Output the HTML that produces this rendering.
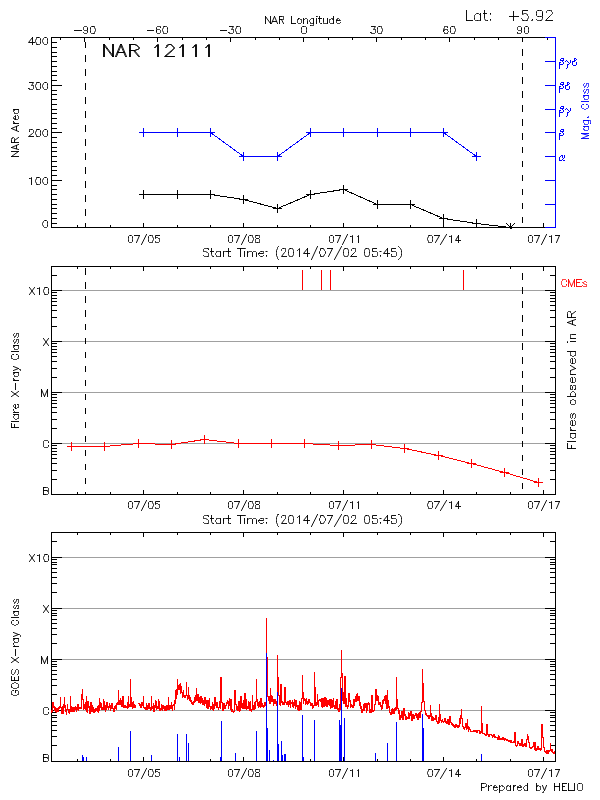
<!DOCTYPE html>
<html><head><meta charset="utf-8"><style>html,body{margin:0;padding:0;background:#fff;}svg{display:block;}text{shape-rendering:auto;}</style></head>
<body><svg width="600" height="800" viewBox="0 0 600 800" shape-rendering="crispEdges" font-family="Liberation Sans, sans-serif"><rect x="51" y="227" width="11" height="1" fill="#000"/><rect x="51" y="223" width="6" height="1" fill="#000"/><rect x="51" y="218" width="6" height="1" fill="#000"/><rect x="51" y="213" width="6" height="1" fill="#000"/><rect x="51" y="208" width="6" height="1" fill="#000"/><rect x="51" y="204" width="6" height="1" fill="#000"/><rect x="51" y="199" width="6" height="1" fill="#000"/><rect x="51" y="194" width="6" height="1" fill="#000"/><rect x="51" y="189" width="6" height="1" fill="#000"/><rect x="51" y="185" width="6" height="1" fill="#000"/><rect x="51" y="180" width="11" height="1" fill="#000"/><rect x="51" y="175" width="6" height="1" fill="#000"/><rect x="51" y="170" width="6" height="1" fill="#000"/><rect x="51" y="166" width="6" height="1" fill="#000"/><rect x="51" y="161" width="6" height="1" fill="#000"/><rect x="51" y="156" width="6" height="1" fill="#000"/><rect x="51" y="151" width="6" height="1" fill="#000"/><rect x="51" y="147" width="6" height="1" fill="#000"/><rect x="51" y="142" width="6" height="1" fill="#000"/><rect x="51" y="137" width="6" height="1" fill="#000"/><rect x="51" y="132" width="11" height="1" fill="#000"/><rect x="51" y="128" width="6" height="1" fill="#000"/><rect x="51" y="123" width="6" height="1" fill="#000"/><rect x="51" y="118" width="6" height="1" fill="#000"/><rect x="51" y="113" width="6" height="1" fill="#000"/><rect x="51" y="109" width="6" height="1" fill="#000"/><rect x="51" y="104" width="6" height="1" fill="#000"/><rect x="51" y="99" width="6" height="1" fill="#000"/><rect x="51" y="94" width="6" height="1" fill="#000"/><rect x="51" y="90" width="6" height="1" fill="#000"/><rect x="51" y="85" width="11" height="1" fill="#000"/><rect x="51" y="80" width="6" height="1" fill="#000"/><rect x="51" y="75" width="6" height="1" fill="#000"/><rect x="51" y="71" width="6" height="1" fill="#000"/><rect x="51" y="66" width="6" height="1" fill="#000"/><rect x="51" y="61" width="6" height="1" fill="#000"/><rect x="51" y="56" width="6" height="1" fill="#000"/><rect x="51" y="52" width="6" height="1" fill="#000"/><rect x="51" y="47" width="6" height="1" fill="#000"/><rect x="51" y="42" width="6" height="1" fill="#000"/><rect x="51" y="37" width="11" height="1" fill="#000"/><rect x="77" y="225" width="1" height="3" fill="#000"/><rect x="110" y="225" width="1" height="3" fill="#000"/><rect x="143" y="223" width="1" height="5" fill="#000"/><rect x="177" y="225" width="1" height="3" fill="#000"/><rect x="210" y="225" width="1" height="3" fill="#000"/><rect x="243" y="223" width="1" height="5" fill="#000"/><rect x="277" y="225" width="1" height="3" fill="#000"/><rect x="310" y="225" width="1" height="3" fill="#000"/><rect x="343" y="223" width="1" height="5" fill="#000"/><rect x="377" y="225" width="1" height="3" fill="#000"/><rect x="410" y="225" width="1" height="3" fill="#000"/><rect x="443" y="223" width="1" height="5" fill="#000"/><rect x="476" y="225" width="1" height="3" fill="#000"/><rect x="510" y="225" width="1" height="3" fill="#000"/><rect x="543" y="223" width="1" height="5" fill="#000"/><rect x="60" y="37" width="1" height="3" fill="#000"/><rect x="84" y="37" width="1" height="5" fill="#000"/><rect x="109" y="37" width="1" height="3" fill="#000"/><rect x="133" y="37" width="1" height="3" fill="#000"/><rect x="157" y="37" width="1" height="5" fill="#000"/><rect x="182" y="37" width="1" height="3" fill="#000"/><rect x="206" y="37" width="1" height="3" fill="#000"/><rect x="230" y="37" width="1" height="5" fill="#000"/><rect x="255" y="37" width="1" height="3" fill="#000"/><rect x="279" y="37" width="1" height="3" fill="#000"/><rect x="303" y="37" width="1" height="5" fill="#000"/><rect x="328" y="37" width="1" height="3" fill="#000"/><rect x="352" y="37" width="1" height="3" fill="#000"/><rect x="376" y="37" width="1" height="5" fill="#000"/><rect x="401" y="37" width="1" height="3" fill="#000"/><rect x="425" y="37" width="1" height="3" fill="#000"/><rect x="449" y="37" width="1" height="5" fill="#000"/><rect x="474" y="37" width="1" height="3" fill="#000"/><rect x="498" y="37" width="1" height="3" fill="#000"/><rect x="522" y="37" width="1" height="5" fill="#000"/><rect x="547" y="37" width="1" height="3" fill="#000"/><rect x="51" y="37" width="505" height="1" fill="#000"/><rect x="51" y="227" width="505" height="1" fill="#000"/><rect x="51" y="37" width="1" height="191" fill="#000"/><rect x="555" y="37" width="1" height="191" fill="#000"/><rect x="545" y="37" width="11" height="1" fill="#0000ff"/><rect x="555" y="37" width="1" height="191" fill="#0000ff"/><rect x="545" y="227" width="11" height="1" fill="#0000ff"/><rect x="545" y="204" width="11" height="1" fill="#0000ff"/><rect x="545" y="180" width="11" height="1" fill="#0000ff"/><rect x="545" y="156" width="11" height="1" fill="#0000ff"/><rect x="545" y="132" width="11" height="1" fill="#0000ff"/><rect x="545" y="109" width="11" height="1" fill="#0000ff"/><rect x="545" y="85" width="11" height="1" fill="#0000ff"/><rect x="545" y="61" width="11" height="1" fill="#0000ff"/><rect x="85" y="41.50" width="1" height="6.60" fill="#000"/><rect x="85" y="55.47" width="1" height="6.60" fill="#000"/><rect x="85" y="69.44" width="1" height="6.60" fill="#000"/><rect x="85" y="83.41" width="1" height="6.60" fill="#000"/><rect x="85" y="97.38" width="1" height="6.60" fill="#000"/><rect x="85" y="111.35" width="1" height="6.60" fill="#000"/><rect x="85" y="125.32" width="1" height="6.60" fill="#000"/><rect x="85" y="139.29" width="1" height="6.60" fill="#000"/><rect x="85" y="153.26" width="1" height="6.60" fill="#000"/><rect x="85" y="167.23" width="1" height="6.60" fill="#000"/><rect x="85" y="181.20" width="1" height="6.60" fill="#000"/><rect x="85" y="195.17" width="1" height="6.60" fill="#000"/><rect x="85" y="209.14" width="1" height="6.60" fill="#000"/><rect x="85" y="223.11" width="1" height="3.89" fill="#000"/><rect x="522" y="49.10" width="1" height="6.60" fill="#000"/><rect x="522" y="63.07" width="1" height="6.60" fill="#000"/><rect x="522" y="77.04" width="1" height="6.60" fill="#000"/><rect x="522" y="91.01" width="1" height="6.60" fill="#000"/><rect x="522" y="104.98" width="1" height="6.60" fill="#000"/><rect x="522" y="118.95" width="1" height="6.60" fill="#000"/><rect x="522" y="132.92" width="1" height="6.60" fill="#000"/><rect x="522" y="146.89" width="1" height="6.60" fill="#000"/><rect x="522" y="160.86" width="1" height="6.60" fill="#000"/><rect x="522" y="174.83" width="1" height="6.60" fill="#000"/><rect x="522" y="188.80" width="1" height="6.60" fill="#000"/><rect x="522" y="202.77" width="1" height="6.60" fill="#000"/><rect x="522" y="216.74" width="1" height="6.60" fill="#000"/><polyline fill="none" stroke="#000" stroke-width="1" points="143.5,194.5 177.5,194.5 210.5,194.5 243.5,199.5 277.5,208.5 310.5,194.5 343.5,189.5 377.5,204.5 410.5,204.5 443.5,218.5 476.5,223.5 510.5,227.5"/><rect x="139" y="194" width="9" height="1" fill="#000"/><rect x="143" y="190" width="1" height="9" fill="#000"/><rect x="173" y="194" width="9" height="1" fill="#000"/><rect x="177" y="190" width="1" height="9" fill="#000"/><rect x="206" y="194" width="9" height="1" fill="#000"/><rect x="210" y="190" width="1" height="9" fill="#000"/><rect x="239" y="199" width="9" height="1" fill="#000"/><rect x="243" y="195" width="1" height="9" fill="#000"/><rect x="273" y="208" width="9" height="1" fill="#000"/><rect x="277" y="204" width="1" height="9" fill="#000"/><rect x="306" y="194" width="9" height="1" fill="#000"/><rect x="310" y="190" width="1" height="9" fill="#000"/><rect x="339" y="189" width="9" height="1" fill="#000"/><rect x="343" y="185" width="1" height="9" fill="#000"/><rect x="373" y="204" width="9" height="1" fill="#000"/><rect x="377" y="200" width="1" height="9" fill="#000"/><rect x="406" y="204" width="9" height="1" fill="#000"/><rect x="410" y="200" width="1" height="9" fill="#000"/><rect x="439" y="218" width="9" height="1" fill="#000"/><rect x="443" y="214" width="1" height="9" fill="#000"/><rect x="472" y="223" width="9" height="1" fill="#000"/><rect x="476" y="219" width="1" height="9" fill="#000"/><rect x="510" y="223" width="1" height="5" fill="#000"/><rect x="510" y="227" width="2" height="2" fill="#000"/><path d="M506.5 223.5L510.5 227.5L514.5 223.5" stroke="#000" fill="none"/><polyline fill="none" stroke="#0000ff" stroke-width="1" points="143.5,132.5 177.5,132.5 210.5,132.5 243.5,156.5 277.5,156.5 310.5,132.5 343.5,132.5 377.5,132.5 410.5,132.5 443.5,132.5 476.5,156.5"/><rect x="139" y="132" width="9" height="1" fill="#0000ff"/><rect x="143" y="128" width="1" height="9" fill="#0000ff"/><rect x="173" y="132" width="9" height="1" fill="#0000ff"/><rect x="177" y="128" width="1" height="9" fill="#0000ff"/><rect x="206" y="132" width="9" height="1" fill="#0000ff"/><rect x="210" y="128" width="1" height="9" fill="#0000ff"/><rect x="239" y="156" width="9" height="1" fill="#0000ff"/><rect x="243" y="152" width="1" height="9" fill="#0000ff"/><rect x="273" y="156" width="9" height="1" fill="#0000ff"/><rect x="277" y="152" width="1" height="9" fill="#0000ff"/><rect x="306" y="132" width="9" height="1" fill="#0000ff"/><rect x="310" y="128" width="1" height="9" fill="#0000ff"/><rect x="339" y="132" width="9" height="1" fill="#0000ff"/><rect x="343" y="128" width="1" height="9" fill="#0000ff"/><rect x="373" y="132" width="9" height="1" fill="#0000ff"/><rect x="377" y="128" width="1" height="9" fill="#0000ff"/><rect x="406" y="132" width="9" height="1" fill="#0000ff"/><rect x="410" y="128" width="1" height="9" fill="#0000ff"/><rect x="439" y="132" width="9" height="1" fill="#0000ff"/><rect x="443" y="128" width="1" height="9" fill="#0000ff"/><rect x="472" y="156" width="9" height="1" fill="#0000ff"/><rect x="476" y="152" width="1" height="9" fill="#0000ff"/><rect x="51" y="443" width="505" height="1" fill="#a0a0a0"/><rect x="51" y="392" width="505" height="1" fill="#a0a0a0"/><rect x="51" y="341" width="505" height="1" fill="#a0a0a0"/><rect x="51" y="290" width="505" height="1" fill="#a0a0a0"/><rect x="51" y="494" width="11" height="1" fill="#000"/><rect x="545" y="494" width="11" height="1" fill="#000"/><rect x="51" y="479" width="6" height="1" fill="#000"/><rect x="550" y="479" width="6" height="1" fill="#000"/><rect x="51" y="470" width="6" height="1" fill="#000"/><rect x="550" y="470" width="6" height="1" fill="#000"/><rect x="51" y="463" width="6" height="1" fill="#000"/><rect x="550" y="463" width="6" height="1" fill="#000"/><rect x="51" y="458" width="6" height="1" fill="#000"/><rect x="550" y="458" width="6" height="1" fill="#000"/><rect x="51" y="454" width="6" height="1" fill="#000"/><rect x="550" y="454" width="6" height="1" fill="#000"/><rect x="51" y="451" width="6" height="1" fill="#000"/><rect x="550" y="451" width="6" height="1" fill="#000"/><rect x="51" y="448" width="6" height="1" fill="#000"/><rect x="550" y="448" width="6" height="1" fill="#000"/><rect x="51" y="445" width="6" height="1" fill="#000"/><rect x="550" y="445" width="6" height="1" fill="#000"/><rect x="51" y="443" width="11" height="1" fill="#000"/><rect x="545" y="443" width="11" height="1" fill="#000"/><rect x="51" y="428" width="6" height="1" fill="#000"/><rect x="550" y="428" width="6" height="1" fill="#000"/><rect x="51" y="419" width="6" height="1" fill="#000"/><rect x="550" y="419" width="6" height="1" fill="#000"/><rect x="51" y="412" width="6" height="1" fill="#000"/><rect x="550" y="412" width="6" height="1" fill="#000"/><rect x="51" y="407" width="6" height="1" fill="#000"/><rect x="550" y="407" width="6" height="1" fill="#000"/><rect x="51" y="403" width="6" height="1" fill="#000"/><rect x="550" y="403" width="6" height="1" fill="#000"/><rect x="51" y="400" width="6" height="1" fill="#000"/><rect x="550" y="400" width="6" height="1" fill="#000"/><rect x="51" y="397" width="6" height="1" fill="#000"/><rect x="550" y="397" width="6" height="1" fill="#000"/><rect x="51" y="394" width="6" height="1" fill="#000"/><rect x="550" y="394" width="6" height="1" fill="#000"/><rect x="51" y="392" width="11" height="1" fill="#000"/><rect x="545" y="392" width="11" height="1" fill="#000"/><rect x="51" y="377" width="6" height="1" fill="#000"/><rect x="550" y="377" width="6" height="1" fill="#000"/><rect x="51" y="368" width="6" height="1" fill="#000"/><rect x="550" y="368" width="6" height="1" fill="#000"/><rect x="51" y="361" width="6" height="1" fill="#000"/><rect x="550" y="361" width="6" height="1" fill="#000"/><rect x="51" y="356" width="6" height="1" fill="#000"/><rect x="550" y="356" width="6" height="1" fill="#000"/><rect x="51" y="352" width="6" height="1" fill="#000"/><rect x="550" y="352" width="6" height="1" fill="#000"/><rect x="51" y="349" width="6" height="1" fill="#000"/><rect x="550" y="349" width="6" height="1" fill="#000"/><rect x="51" y="346" width="6" height="1" fill="#000"/><rect x="550" y="346" width="6" height="1" fill="#000"/><rect x="51" y="343" width="6" height="1" fill="#000"/><rect x="550" y="343" width="6" height="1" fill="#000"/><rect x="51" y="341" width="11" height="1" fill="#000"/><rect x="545" y="341" width="11" height="1" fill="#000"/><rect x="51" y="326" width="6" height="1" fill="#000"/><rect x="550" y="326" width="6" height="1" fill="#000"/><rect x="51" y="317" width="6" height="1" fill="#000"/><rect x="550" y="317" width="6" height="1" fill="#000"/><rect x="51" y="310" width="6" height="1" fill="#000"/><rect x="550" y="310" width="6" height="1" fill="#000"/><rect x="51" y="305" width="6" height="1" fill="#000"/><rect x="550" y="305" width="6" height="1" fill="#000"/><rect x="51" y="301" width="6" height="1" fill="#000"/><rect x="550" y="301" width="6" height="1" fill="#000"/><rect x="51" y="298" width="6" height="1" fill="#000"/><rect x="550" y="298" width="6" height="1" fill="#000"/><rect x="51" y="295" width="6" height="1" fill="#000"/><rect x="550" y="295" width="6" height="1" fill="#000"/><rect x="51" y="292" width="6" height="1" fill="#000"/><rect x="550" y="292" width="6" height="1" fill="#000"/><rect x="51" y="290" width="11" height="1" fill="#000"/><rect x="545" y="290" width="11" height="1" fill="#000"/><rect x="51" y="275" width="6" height="1" fill="#000"/><rect x="550" y="275" width="6" height="1" fill="#000"/><rect x="51" y="266" width="6" height="1" fill="#000"/><rect x="550" y="266" width="6" height="1" fill="#000"/><rect x="77" y="492" width="1" height="3" fill="#000"/><rect x="77" y="266" width="1" height="3" fill="#000"/><rect x="110" y="492" width="1" height="3" fill="#000"/><rect x="110" y="266" width="1" height="3" fill="#000"/><rect x="143" y="490" width="1" height="5" fill="#000"/><rect x="143" y="266" width="1" height="5" fill="#000"/><rect x="177" y="492" width="1" height="3" fill="#000"/><rect x="177" y="266" width="1" height="3" fill="#000"/><rect x="210" y="492" width="1" height="3" fill="#000"/><rect x="210" y="266" width="1" height="3" fill="#000"/><rect x="243" y="490" width="1" height="5" fill="#000"/><rect x="243" y="266" width="1" height="5" fill="#000"/><rect x="277" y="492" width="1" height="3" fill="#000"/><rect x="277" y="266" width="1" height="3" fill="#000"/><rect x="310" y="492" width="1" height="3" fill="#000"/><rect x="310" y="266" width="1" height="3" fill="#000"/><rect x="343" y="490" width="1" height="5" fill="#000"/><rect x="343" y="266" width="1" height="5" fill="#000"/><rect x="377" y="492" width="1" height="3" fill="#000"/><rect x="377" y="266" width="1" height="3" fill="#000"/><rect x="410" y="492" width="1" height="3" fill="#000"/><rect x="410" y="266" width="1" height="3" fill="#000"/><rect x="443" y="490" width="1" height="5" fill="#000"/><rect x="443" y="266" width="1" height="5" fill="#000"/><rect x="476" y="492" width="1" height="3" fill="#000"/><rect x="476" y="266" width="1" height="3" fill="#000"/><rect x="510" y="492" width="1" height="3" fill="#000"/><rect x="510" y="266" width="1" height="3" fill="#000"/><rect x="543" y="490" width="1" height="5" fill="#000"/><rect x="543" y="266" width="1" height="5" fill="#000"/><rect x="51" y="266" width="505" height="1" fill="#000"/><rect x="51" y="494" width="505" height="1" fill="#000"/><rect x="51" y="266" width="1" height="229" fill="#000"/><rect x="555" y="266" width="1" height="229" fill="#000"/><rect x="85" y="268.00" width="1" height="6.60" fill="#000"/><rect x="85" y="281.97" width="1" height="6.60" fill="#000"/><rect x="85" y="295.94" width="1" height="6.60" fill="#000"/><rect x="85" y="309.91" width="1" height="6.60" fill="#000"/><rect x="85" y="323.88" width="1" height="6.60" fill="#000"/><rect x="85" y="337.85" width="1" height="6.60" fill="#000"/><rect x="85" y="351.82" width="1" height="6.60" fill="#000"/><rect x="85" y="365.79" width="1" height="6.60" fill="#000"/><rect x="85" y="379.76" width="1" height="6.60" fill="#000"/><rect x="85" y="393.73" width="1" height="6.60" fill="#000"/><rect x="85" y="407.70" width="1" height="6.60" fill="#000"/><rect x="85" y="421.67" width="1" height="6.60" fill="#000"/><rect x="85" y="435.64" width="1" height="6.60" fill="#000"/><rect x="85" y="449.61" width="1" height="6.60" fill="#000"/><rect x="85" y="463.58" width="1" height="6.60" fill="#000"/><rect x="85" y="477.55" width="1" height="6.60" fill="#000"/><rect x="85" y="491.52" width="1" height="2.48" fill="#000"/><rect x="522" y="273.25" width="1" height="6.60" fill="#000"/><rect x="522" y="287.22" width="1" height="6.60" fill="#000"/><rect x="522" y="301.19" width="1" height="6.60" fill="#000"/><rect x="522" y="315.16" width="1" height="6.60" fill="#000"/><rect x="522" y="329.13" width="1" height="6.60" fill="#000"/><rect x="522" y="343.10" width="1" height="6.60" fill="#000"/><rect x="522" y="357.07" width="1" height="6.60" fill="#000"/><rect x="522" y="371.04" width="1" height="6.60" fill="#000"/><rect x="522" y="385.01" width="1" height="6.60" fill="#000"/><rect x="522" y="398.98" width="1" height="6.60" fill="#000"/><rect x="522" y="412.95" width="1" height="6.60" fill="#000"/><rect x="522" y="426.92" width="1" height="6.60" fill="#000"/><rect x="522" y="440.89" width="1" height="6.60" fill="#000"/><rect x="522" y="454.86" width="1" height="6.60" fill="#000"/><rect x="522" y="468.83" width="1" height="6.60" fill="#000"/><rect x="522" y="482.80" width="1" height="6.60" fill="#000"/><rect x="302" y="270" width="1" height="20" fill="#ff0000"/><rect x="321" y="270" width="1" height="20" fill="#ff0000"/><rect x="330" y="270" width="1" height="20" fill="#ff0000"/><rect x="463" y="270" width="1" height="20" fill="#ff0000"/><polyline fill="none" stroke="#ff0000" stroke-width="1" points="71.5,446.5 104.5,446.5 138.5,443.5 171.5,444.5 204.5,439.5 238.5,443.5 271.5,443.5 304.5,443.5 338.5,445.5 371.5,444.5 404.5,448.5 438.5,455.5 471.5,463.5 504.5,472.5 538.5,482.5"/><rect x="67" y="446" width="9" height="1" fill="#ff0000"/><rect x="71" y="442" width="1" height="9" fill="#ff0000"/><rect x="100" y="446" width="9" height="1" fill="#ff0000"/><rect x="104" y="442" width="1" height="9" fill="#ff0000"/><rect x="134" y="443" width="9" height="1" fill="#ff0000"/><rect x="138" y="439" width="1" height="9" fill="#ff0000"/><rect x="167" y="444" width="9" height="1" fill="#ff0000"/><rect x="171" y="440" width="1" height="9" fill="#ff0000"/><rect x="200" y="439" width="9" height="1" fill="#ff0000"/><rect x="204" y="435" width="1" height="9" fill="#ff0000"/><rect x="234" y="443" width="9" height="1" fill="#ff0000"/><rect x="238" y="439" width="1" height="9" fill="#ff0000"/><rect x="267" y="443" width="9" height="1" fill="#ff0000"/><rect x="271" y="439" width="1" height="9" fill="#ff0000"/><rect x="300" y="443" width="9" height="1" fill="#ff0000"/><rect x="304" y="439" width="1" height="9" fill="#ff0000"/><rect x="334" y="445" width="9" height="1" fill="#ff0000"/><rect x="338" y="441" width="1" height="9" fill="#ff0000"/><rect x="367" y="444" width="9" height="1" fill="#ff0000"/><rect x="371" y="440" width="1" height="9" fill="#ff0000"/><rect x="400" y="448" width="9" height="1" fill="#ff0000"/><rect x="404" y="444" width="1" height="9" fill="#ff0000"/><rect x="434" y="455" width="9" height="1" fill="#ff0000"/><rect x="438" y="451" width="1" height="9" fill="#ff0000"/><rect x="467" y="463" width="9" height="1" fill="#ff0000"/><rect x="471" y="459" width="1" height="9" fill="#ff0000"/><rect x="500" y="472" width="9" height="1" fill="#ff0000"/><rect x="504" y="468" width="1" height="9" fill="#ff0000"/><rect x="534" y="482" width="9" height="1" fill="#ff0000"/><rect x="538" y="478" width="1" height="9" fill="#ff0000"/><rect x="51" y="710" width="505" height="1" fill="#a0a0a0"/><rect x="51" y="659" width="505" height="1" fill="#a0a0a0"/><rect x="51" y="608" width="505" height="1" fill="#a0a0a0"/><rect x="51" y="557" width="505" height="1" fill="#a0a0a0"/><rect x="51" y="761" width="11" height="1" fill="#000"/><rect x="545" y="761" width="11" height="1" fill="#000"/><rect x="51" y="745" width="6" height="1" fill="#000"/><rect x="550" y="745" width="6" height="1" fill="#000"/><rect x="51" y="736" width="6" height="1" fill="#000"/><rect x="550" y="736" width="6" height="1" fill="#000"/><rect x="51" y="730" width="6" height="1" fill="#000"/><rect x="550" y="730" width="6" height="1" fill="#000"/><rect x="51" y="725" width="6" height="1" fill="#000"/><rect x="550" y="725" width="6" height="1" fill="#000"/><rect x="51" y="721" width="6" height="1" fill="#000"/><rect x="550" y="721" width="6" height="1" fill="#000"/><rect x="51" y="717" width="6" height="1" fill="#000"/><rect x="550" y="717" width="6" height="1" fill="#000"/><rect x="51" y="715" width="6" height="1" fill="#000"/><rect x="550" y="715" width="6" height="1" fill="#000"/><rect x="51" y="712" width="6" height="1" fill="#000"/><rect x="550" y="712" width="6" height="1" fill="#000"/><rect x="51" y="710" width="11" height="1" fill="#000"/><rect x="545" y="710" width="11" height="1" fill="#000"/><rect x="51" y="694" width="6" height="1" fill="#000"/><rect x="550" y="694" width="6" height="1" fill="#000"/><rect x="51" y="685" width="6" height="1" fill="#000"/><rect x="550" y="685" width="6" height="1" fill="#000"/><rect x="51" y="679" width="6" height="1" fill="#000"/><rect x="550" y="679" width="6" height="1" fill="#000"/><rect x="51" y="674" width="6" height="1" fill="#000"/><rect x="550" y="674" width="6" height="1" fill="#000"/><rect x="51" y="670" width="6" height="1" fill="#000"/><rect x="550" y="670" width="6" height="1" fill="#000"/><rect x="51" y="666" width="6" height="1" fill="#000"/><rect x="550" y="666" width="6" height="1" fill="#000"/><rect x="51" y="664" width="6" height="1" fill="#000"/><rect x="550" y="664" width="6" height="1" fill="#000"/><rect x="51" y="661" width="6" height="1" fill="#000"/><rect x="550" y="661" width="6" height="1" fill="#000"/><rect x="51" y="659" width="11" height="1" fill="#000"/><rect x="545" y="659" width="11" height="1" fill="#000"/><rect x="51" y="643" width="6" height="1" fill="#000"/><rect x="550" y="643" width="6" height="1" fill="#000"/><rect x="51" y="634" width="6" height="1" fill="#000"/><rect x="550" y="634" width="6" height="1" fill="#000"/><rect x="51" y="628" width="6" height="1" fill="#000"/><rect x="550" y="628" width="6" height="1" fill="#000"/><rect x="51" y="623" width="6" height="1" fill="#000"/><rect x="550" y="623" width="6" height="1" fill="#000"/><rect x="51" y="619" width="6" height="1" fill="#000"/><rect x="550" y="619" width="6" height="1" fill="#000"/><rect x="51" y="615" width="6" height="1" fill="#000"/><rect x="550" y="615" width="6" height="1" fill="#000"/><rect x="51" y="613" width="6" height="1" fill="#000"/><rect x="550" y="613" width="6" height="1" fill="#000"/><rect x="51" y="610" width="6" height="1" fill="#000"/><rect x="550" y="610" width="6" height="1" fill="#000"/><rect x="51" y="608" width="11" height="1" fill="#000"/><rect x="545" y="608" width="11" height="1" fill="#000"/><rect x="51" y="592" width="6" height="1" fill="#000"/><rect x="550" y="592" width="6" height="1" fill="#000"/><rect x="51" y="583" width="6" height="1" fill="#000"/><rect x="550" y="583" width="6" height="1" fill="#000"/><rect x="51" y="577" width="6" height="1" fill="#000"/><rect x="550" y="577" width="6" height="1" fill="#000"/><rect x="51" y="572" width="6" height="1" fill="#000"/><rect x="550" y="572" width="6" height="1" fill="#000"/><rect x="51" y="568" width="6" height="1" fill="#000"/><rect x="550" y="568" width="6" height="1" fill="#000"/><rect x="51" y="564" width="6" height="1" fill="#000"/><rect x="550" y="564" width="6" height="1" fill="#000"/><rect x="51" y="562" width="6" height="1" fill="#000"/><rect x="550" y="562" width="6" height="1" fill="#000"/><rect x="51" y="559" width="6" height="1" fill="#000"/><rect x="550" y="559" width="6" height="1" fill="#000"/><rect x="51" y="557" width="11" height="1" fill="#000"/><rect x="545" y="557" width="11" height="1" fill="#000"/><rect x="51" y="541" width="6" height="1" fill="#000"/><rect x="550" y="541" width="6" height="1" fill="#000"/><rect x="51" y="532" width="6" height="1" fill="#000"/><rect x="550" y="532" width="6" height="1" fill="#000"/><rect x="77" y="759" width="1" height="3" fill="#000"/><rect x="77" y="532" width="1" height="3" fill="#000"/><rect x="110" y="759" width="1" height="3" fill="#000"/><rect x="110" y="532" width="1" height="3" fill="#000"/><rect x="143" y="757" width="1" height="5" fill="#000"/><rect x="143" y="532" width="1" height="5" fill="#000"/><rect x="177" y="759" width="1" height="3" fill="#000"/><rect x="177" y="532" width="1" height="3" fill="#000"/><rect x="210" y="759" width="1" height="3" fill="#000"/><rect x="210" y="532" width="1" height="3" fill="#000"/><rect x="243" y="757" width="1" height="5" fill="#000"/><rect x="243" y="532" width="1" height="5" fill="#000"/><rect x="277" y="759" width="1" height="3" fill="#000"/><rect x="277" y="532" width="1" height="3" fill="#000"/><rect x="310" y="759" width="1" height="3" fill="#000"/><rect x="310" y="532" width="1" height="3" fill="#000"/><rect x="343" y="757" width="1" height="5" fill="#000"/><rect x="343" y="532" width="1" height="5" fill="#000"/><rect x="377" y="759" width="1" height="3" fill="#000"/><rect x="377" y="532" width="1" height="3" fill="#000"/><rect x="410" y="759" width="1" height="3" fill="#000"/><rect x="410" y="532" width="1" height="3" fill="#000"/><rect x="443" y="757" width="1" height="5" fill="#000"/><rect x="443" y="532" width="1" height="5" fill="#000"/><rect x="476" y="759" width="1" height="3" fill="#000"/><rect x="476" y="532" width="1" height="3" fill="#000"/><rect x="510" y="759" width="1" height="3" fill="#000"/><rect x="510" y="532" width="1" height="3" fill="#000"/><rect x="543" y="757" width="1" height="5" fill="#000"/><rect x="543" y="532" width="1" height="5" fill="#000"/><rect x="51" y="532" width="505" height="1" fill="#000"/><rect x="51" y="761" width="505" height="1" fill="#000"/><rect x="51" y="532" width="1" height="230" fill="#000"/><rect x="555" y="532" width="1" height="230" fill="#000"/><polyline fill="none" stroke="#ff0000" stroke-width="1" points="51.5,712.5 51.5,711.5 51.5,709.5 51.5,711.5 52.5,711.5 52.5,711.5 52.5,703.5 52.5,702.5 53.5,702.5 53.5,704.5 53.5,705.5 53.5,707.5 53.5,706.5 54.5,706.5 54.5,706.5 54.5,710.5 54.5,707.5 55.5,707.5 55.5,708.5 55.5,709.5 55.5,711.5 56.5,711.5 56.5,711.5 56.5,709.5 56.5,712.5 56.5,708.5 57.5,708.5 57.5,709.5 57.5,710.5 57.5,711.5 58.5,711.5 58.5,710.5 58.5,709.5 58.5,707.5 59.5,707.5 59.5,708.5 59.5,706.5 59.5,705.5 59.5,707.5 60.5,707.5 60.5,696.5 60.5,696.5 60.5,707.5 61.5,707.5 61.5,706.5 61.5,711.5 61.5,713.5 62.5,713.5 62.5,709.5 62.5,705.5 62.5,710.5 62.5,713.5 63.5,713.5 63.5,710.5 63.5,706.5 63.5,704.5 64.5,704.5 64.5,696.5 64.5,696.5 64.5,707.5 65.5,707.5 65.5,705.5 65.5,707.5 65.5,704.5 65.5,711.5 66.5,711.5 66.5,713.5 66.5,714.5 66.5,709.5 67.5,709.5 67.5,703.5 67.5,703.5 67.5,709.5 68.5,709.5 68.5,711.5 68.5,712.5 68.5,709.5 68.5,711.5 69.5,711.5 69.5,713.5 69.5,708.5 69.5,711.5 70.5,711.5 70.5,695.5 70.5,695.5 70.5,706.5 71.5,706.5 71.5,707.5 71.5,711.5 71.5,706.5 71.5,711.5 72.5,711.5 72.5,707.5 72.5,710.5 72.5,707.5 73.5,707.5 73.5,710.5 73.5,711.5 73.5,710.5 74.5,710.5 74.5,706.5 74.5,711.5 74.5,706.5 74.5,709.5 75.5,709.5 75.5,705.5 75.5,706.5 75.5,707.5 76.5,707.5 76.5,710.5 76.5,711.5 76.5,709.5 77.5,709.5 77.5,706.5 77.5,705.5 77.5,704.5 77.5,704.5 78.5,704.5 78.5,709.5 78.5,710.5 78.5,707.5 79.5,707.5 79.5,708.5 79.5,706.5 79.5,708.5 80.5,708.5 80.5,707.5 80.5,708.5 80.5,706.5 80.5,708.5 81.5,708.5 81.5,702.5 81.5,693.5 81.5,698.5 82.5,698.5 82.5,688.5 82.5,688.5 82.5,699.5 83.5,699.5 83.5,704.5 83.5,709.5 83.5,709.5 83.5,708.5 84.5,708.5 84.5,705.5 84.5,708.5 84.5,704.5 85.5,704.5 85.5,709.5 85.5,704.5 85.5,702.5 86.5,702.5 86.5,695.5 86.5,695.5 86.5,706.5 86.5,711.5 87.5,711.5 87.5,712.5 87.5,704.5 87.5,701.5 88.5,701.5 88.5,707.5 88.5,706.5 88.5,706.5 89.5,706.5 89.5,711.5 89.5,712.5 89.5,713.5 89.5,713.5 90.5,713.5 90.5,702.5 90.5,702.5 90.5,702.5 91.5,702.5 91.5,703.5 91.5,711.5 91.5,707.5 92.5,707.5 92.5,704.5 92.5,707.5 92.5,711.5 92.5,707.5 93.5,707.5 93.5,710.5 93.5,712.5 93.5,711.5 94.5,711.5 94.5,712.5 94.5,708.5 94.5,709.5 95.5,709.5 95.5,708.5 95.5,711.5 95.5,707.5 95.5,708.5 96.5,708.5 96.5,707.5 96.5,710.5 96.5,708.5 97.5,708.5 97.5,711.5 97.5,705.5 97.5,706.5 98.5,706.5 98.5,704.5 98.5,709.5 98.5,712.5 98.5,710.5 99.5,710.5 99.5,697.5 99.5,697.5 99.5,702.5 100.5,702.5 100.5,707.5 100.5,707.5 100.5,704.5 101.5,704.5 101.5,702.5 101.5,708.5 101.5,703.5 101.5,709.5 102.5,709.5 102.5,706.5 102.5,709.5 102.5,709.5 103.5,709.5 103.5,698.5 103.5,698.5 103.5,708.5 104.5,708.5 104.5,700.5 104.5,705.5 104.5,702.5 104.5,709.5 105.5,709.5 105.5,711.5 105.5,711.5 105.5,705.5 106.5,705.5 106.5,705.5 106.5,709.5 106.5,702.5 107.5,702.5 107.5,706.5 107.5,707.5 107.5,705.5 107.5,706.5 108.5,706.5 108.5,705.5 108.5,709.5 108.5,706.5 109.5,706.5 109.5,702.5 109.5,707.5 109.5,706.5 110.5,706.5 110.5,705.5 110.5,708.5 110.5,710.5 110.5,705.5 111.5,705.5 111.5,704.5 111.5,708.5 111.5,703.5 112.5,703.5 112.5,706.5 112.5,704.5 112.5,708.5 113.5,708.5 113.5,707.5 113.5,708.5 113.5,710.5 113.5,711.5 114.5,711.5 114.5,705.5 114.5,709.5 114.5,708.5 115.5,708.5 115.5,704.5 115.5,705.5 115.5,707.5 116.5,707.5 116.5,707.5 116.5,709.5 116.5,704.5 116.5,703.5 117.5,703.5 117.5,701.5 117.5,704.5 117.5,704.5 118.5,704.5 118.5,689.5 118.5,689.5 118.5,700.5 119.5,700.5 119.5,701.5 119.5,703.5 119.5,704.5 119.5,702.5 120.5,702.5 120.5,697.5 120.5,699.5 120.5,704.5 121.5,704.5 121.5,704.5 121.5,699.5 121.5,706.5 122.5,706.5 122.5,704.5 122.5,701.5 122.5,705.5 122.5,696.5 123.5,696.5 123.5,696.5 123.5,704.5 123.5,707.5 124.5,707.5 124.5,705.5 124.5,705.5 124.5,705.5 125.5,705.5 125.5,707.5 125.5,706.5 125.5,704.5 125.5,706.5 126.5,706.5 126.5,705.5 126.5,707.5 126.5,706.5 127.5,706.5 127.5,708.5 127.5,708.5 127.5,702.5 128.5,702.5 128.5,704.5 128.5,707.5 128.5,695.5 128.5,704.5 129.5,704.5 129.5,704.5 129.5,703.5 129.5,706.5 130.5,706.5 130.5,678.5 130.5,678.5 130.5,697.5 131.5,697.5 131.5,703.5 131.5,705.5 131.5,699.5 131.5,706.5 132.5,706.5 132.5,708.5 132.5,701.5 132.5,704.5 133.5,704.5 133.5,700.5 133.5,703.5 133.5,707.5 134.5,707.5 134.5,703.5 134.5,705.5 134.5,704.5 134.5,707.5 135.5,707.5 135.5,704.5"/><polyline fill="none" stroke="#ff0000" stroke-width="1" points="138.5,702.5 138.5,703.5 139.5,703.5 139.5,704.5 139.5,703.5 139.5,705.5 140.5,705.5 140.5,703.5 140.5,704.5 140.5,706.5 140.5,707.5 141.5,707.5 141.5,703.5 141.5,706.5 141.5,702.5 142.5,702.5 142.5,701.5 142.5,705.5 142.5,703.5 143.5,703.5 143.5,706.5 143.5,695.5 143.5,695.5 143.5,707.5 144.5,707.5 144.5,708.5 144.5,706.5 144.5,708.5 145.5,708.5 145.5,707.5 145.5,706.5 145.5,709.5 146.5,709.5 146.5,704.5 146.5,702.5 146.5,708.5 147.5,708.5 147.5,709.5 147.5,707.5 147.5,704.5 147.5,708.5 148.5,708.5 148.5,708.5 148.5,704.5 148.5,703.5 149.5,703.5 149.5,706.5 149.5,705.5 149.5,708.5 150.5,708.5 150.5,710.5 150.5,706.5 150.5,706.5 150.5,709.5 151.5,709.5 151.5,695.5 151.5,695.5 151.5,706.5 152.5,706.5 152.5,706.5 152.5,706.5 152.5,708.5 153.5,708.5 153.5,702.5 153.5,707.5 153.5,709.5 153.5,711.5 154.5,711.5 154.5,707.5 154.5,704.5 154.5,707.5 155.5,707.5 155.5,699.5 155.5,699.5 155.5,704.5 156.5,704.5 156.5,709.5 156.5,700.5 156.5,706.5 156.5,706.5 157.5,706.5 157.5,707.5 157.5,706.5 157.5,708.5 158.5,708.5 158.5,698.5 158.5,698.5 158.5,707.5 159.5,707.5 159.5,707.5 159.5,700.5 159.5,708.5 159.5,710.5 160.5,710.5 160.5,709.5 160.5,708.5 160.5,708.5 161.5,708.5 161.5,703.5 161.5,709.5 161.5,705.5 162.5,705.5 162.5,704.5 162.5,708.5 162.5,710.5 162.5,705.5 163.5,705.5 163.5,708.5 163.5,705.5 163.5,707.5 164.5,707.5 164.5,708.5 164.5,710.5 164.5,706.5 165.5,706.5 165.5,709.5 165.5,709.5 165.5,709.5 165.5,710.5 166.5,710.5 166.5,709.5 166.5,706.5 166.5,705.5 167.5,705.5 167.5,709.5 167.5,708.5 167.5,709.5 168.5,709.5 168.5,696.5 168.5,696.5 168.5,705.5 168.5,706.5 169.5,706.5 169.5,709.5 169.5,709.5 169.5,705.5 170.5,705.5 170.5,708.5 170.5,704.5 170.5,708.5 171.5,708.5 171.5,706.5 171.5,701.5 171.5,702.5 171.5,707.5 172.5,707.5 172.5,709.5 172.5,710.5 172.5,705.5 173.5,705.5 173.5,704.5 173.5,703.5 173.5,705.5 174.5,705.5 174.5,709.5 174.5,707.5 174.5,699.5 174.5,703.5 175.5,703.5 175.5,698.5 175.5,701.5 175.5,690.5 176.5,690.5 176.5,696.5 176.5,698.5 176.5,689.5 177.5,689.5 177.5,694.5 177.5,678.5 177.5,678.5 177.5,685.5 178.5,685.5 178.5,684.5 178.5,686.5 178.5,689.5 179.5,689.5 179.5,687.5 179.5,685.5 179.5,684.5 180.5,684.5 180.5,693.5 180.5,686.5 180.5,682.5 180.5,686.5 181.5,686.5 181.5,689.5 181.5,689.5 181.5,692.5 182.5,692.5 182.5,697.5 182.5,696.5 182.5,696.5 183.5,696.5 183.5,696.5 183.5,689.5 183.5,689.5 183.5,695.5 184.5,695.5 184.5,697.5 184.5,695.5 184.5,696.5 185.5,696.5 185.5,697.5 185.5,696.5 185.5,695.5 186.5,695.5 186.5,681.5 186.5,681.5 186.5,691.5 186.5,695.5 187.5,695.5 187.5,697.5 187.5,699.5 187.5,698.5 188.5,698.5 188.5,686.5 188.5,686.5 188.5,695.5 189.5,695.5 189.5,698.5 189.5,700.5 189.5,699.5 189.5,698.5 190.5,698.5 190.5,696.5 190.5,701.5 190.5,701.5 191.5,701.5 191.5,703.5 191.5,699.5 191.5,703.5 192.5,703.5 192.5,704.5 192.5,703.5 192.5,703.5 192.5,702.5 193.5,702.5 193.5,704.5 193.5,701.5 193.5,701.5 194.5,701.5 194.5,696.5 194.5,702.5 194.5,701.5 195.5,701.5 195.5,695.5 195.5,699.5 195.5,694.5 195.5,699.5 196.5,699.5 196.5,687.5 196.5,696.5 196.5,700.5 197.5,700.5 197.5,699.5 197.5,698.5 197.5,694.5 198.5,694.5 198.5,698.5 198.5,700.5 198.5,702.5 198.5,697.5 199.5,697.5 199.5,697.5 199.5,696.5 199.5,702.5 200.5,702.5 200.5,703.5 200.5,698.5 200.5,696.5 201.5,696.5 201.5,702.5 201.5,702.5 201.5,698.5 201.5,698.5 202.5,698.5 202.5,700.5 202.5,704.5 202.5,704.5 203.5,704.5 203.5,701.5 203.5,699.5 203.5,700.5 204.5,700.5 204.5,705.5 204.5,703.5 204.5,697.5 204.5,697.5 205.5,697.5 205.5,703.5 205.5,703.5 205.5,700.5 206.5,700.5 206.5,700.5 206.5,707.5 206.5,700.5 207.5,700.5 207.5,703.5 207.5,705.5 207.5,704.5 207.5,708.5 208.5,708.5 208.5,702.5 208.5,707.5 208.5,700.5 209.5,700.5 209.5,697.5 209.5,698.5 209.5,706.5 210.5,706.5 210.5,708.5 210.5,709.5 210.5,708.5 210.5,708.5 211.5,708.5 211.5,707.5 211.5,705.5 211.5,706.5 212.5,706.5 212.5,709.5 212.5,701.5 212.5,704.5 213.5,704.5 213.5,709.5 213.5,708.5 213.5,710.5 213.5,707.5 214.5,707.5 214.5,708.5 214.5,697.5 214.5,697.5 215.5,697.5 215.5,705.5 215.5,704.5 215.5,703.5 216.5,703.5 216.5,705.5 216.5,703.5 216.5,707.5 216.5,702.5 217.5,702.5 217.5,703.5 217.5,707.5 217.5,707.5 218.5,707.5 218.5,709.5 218.5,709.5 218.5,707.5 219.5,707.5 219.5,702.5 219.5,706.5 219.5,705.5 219.5,701.5 220.5,701.5 220.5,708.5 220.5,704.5 220.5,677.5 221.5,677.5 221.5,677.5 221.5,695.5 221.5,702.5 222.5,702.5 222.5,708.5 222.5,709.5 222.5,707.5 222.5,710.5 223.5,710.5 223.5,710.5 223.5,709.5 223.5,703.5 224.5,703.5 224.5,706.5 224.5,708.5 224.5,707.5 225.5,707.5 225.5,707.5 225.5,707.5 225.5,708.5 225.5,705.5 226.5,705.5 226.5,701.5 226.5,705.5 226.5,703.5 227.5,703.5 227.5,699.5 227.5,700.5 227.5,703.5 228.5,703.5 228.5,706.5 228.5,700.5 228.5,708.5 228.5,704.5 229.5,704.5 229.5,705.5 229.5,697.5 229.5,705.5 230.5,705.5 230.5,709.5 230.5,707.5 230.5,699.5 231.5,699.5 231.5,709.5 231.5,711.5 231.5,702.5 231.5,709.5 232.5,709.5 232.5,709.5 232.5,709.5 232.5,711.5 233.5,711.5 233.5,711.5 233.5,712.5 233.5,711.5 234.5,711.5 234.5,705.5 234.5,704.5 234.5,705.5 234.5,690.5 235.5,690.5 235.5,690.5 235.5,703.5 235.5,704.5 236.5,704.5 236.5,707.5 236.5,709.5 236.5,708.5 237.5,708.5 237.5,705.5 237.5,707.5 237.5,710.5 237.5,706.5 238.5,706.5 238.5,710.5 238.5,707.5 238.5,701.5 239.5,701.5 239.5,707.5 239.5,711.5 239.5,704.5 240.5,704.5 240.5,702.5 240.5,708.5 240.5,710.5 240.5,696.5 241.5,696.5 241.5,696.5 241.5,707.5 241.5,707.5 242.5,707.5 242.5,703.5 242.5,708.5 242.5,703.5 243.5,703.5 243.5,700.5 243.5,702.5 243.5,699.5 243.5,708.5 244.5,708.5 244.5,707.5 244.5,706.5 244.5,693.5 245.5,693.5 245.5,705.5 245.5,697.5 245.5,708.5 246.5,708.5 246.5,709.5 246.5,699.5 246.5,698.5 246.5,706.5 247.5,706.5 247.5,705.5 247.5,707.5 247.5,708.5 248.5,708.5 248.5,700.5 248.5,700.5 248.5,707.5 249.5,707.5 249.5,710.5 249.5,701.5 249.5,704.5 249.5,706.5 250.5,706.5 250.5,700.5 250.5,707.5 250.5,710.5 251.5,710.5 251.5,709.5 251.5,711.5 251.5,709.5 252.5,709.5 252.5,705.5 252.5,709.5 252.5,694.5 252.5,705.5 253.5,705.5 253.5,708.5 253.5,709.5 253.5,708.5 254.5,708.5 254.5,709.5 254.5,703.5 254.5,702.5 255.5,702.5 255.5,708.5 255.5,702.5 255.5,706.5 255.5,701.5 256.5,701.5 256.5,678.5 256.5,678.5 256.5,699.5 257.5,699.5 257.5,703.5 257.5,700.5 257.5,705.5 258.5,705.5 258.5,707.5 258.5,702.5 258.5,706.5 258.5,702.5 259.5,702.5 259.5,701.5 259.5,700.5 259.5,706.5 260.5,706.5 260.5,707.5 260.5,702.5 260.5,698.5 261.5,698.5 261.5,701.5 261.5,703.5 261.5,706.5 261.5,703.5 262.5,703.5 262.5,702.5 262.5,706.5 262.5,705.5 263.5,705.5 263.5,706.5 263.5,707.5 263.5,706.5 264.5,706.5 264.5,703.5 264.5,702.5 264.5,701.5 264.5,705.5 265.5,705.5 265.5,701.5 265.5,704.5 265.5,703.5 266.5,703.5 266.5,617.5 266.5,617.5 266.5,657.5 267.5,657.5 267.5,664.5 267.5,664.5 267.5,689.5 267.5,696.5 268.5,696.5 268.5,700.5 268.5,697.5 268.5,696.5 269.5,696.5 269.5,697.5 269.5,699.5 269.5,703.5 270.5,703.5 270.5,701.5 270.5,698.5 270.5,687.5 270.5,696.5 271.5,696.5 271.5,694.5 271.5,701.5 271.5,699.5 272.5,699.5 272.5,695.5 272.5,701.5 272.5,700.5 273.5,700.5 273.5,701.5 273.5,705.5 273.5,705.5 273.5,699.5 274.5,699.5 274.5,703.5 274.5,701.5 274.5,700.5 275.5,700.5 275.5,698.5 275.5,703.5 275.5,701.5 276.5,701.5 276.5,702.5 276.5,703.5 276.5,705.5 276.5,701.5 277.5,701.5 277.5,654.5 277.5,654.5 277.5,685.5 278.5,685.5 278.5,676.5 278.5,676.5 278.5,695.5 279.5,695.5 279.5,702.5 279.5,701.5 279.5,702.5 279.5,704.5 280.5,704.5 280.5,705.5 280.5,703.5 280.5,684.5 281.5,684.5 281.5,684.5 281.5,698.5 281.5,702.5 282.5,702.5 282.5,704.5 282.5,702.5 282.5,700.5 282.5,702.5 283.5,702.5 283.5,703.5 283.5,701.5 283.5,704.5 284.5,704.5 284.5,703.5 284.5,702.5 284.5,687.5 285.5,687.5 285.5,687.5 285.5,695.5 285.5,702.5 285.5,702.5 286.5,702.5 286.5,701.5 286.5,704.5 286.5,703.5 287.5,703.5 287.5,701.5 287.5,704.5 287.5,701.5 288.5,701.5 288.5,705.5 288.5,706.5 288.5,704.5 288.5,704.5 289.5,704.5 289.5,703.5 289.5,701.5 289.5,700.5 290.5,700.5 290.5,705.5 290.5,707.5 290.5,702.5 291.5,702.5 291.5,703.5 291.5,703.5 291.5,701.5 291.5,702.5 292.5,702.5 292.5,705.5 292.5,699.5 292.5,706.5 293.5,706.5 293.5,707.5 293.5,707.5 293.5,702.5 294.5,702.5 294.5,698.5 294.5,698.5 294.5,705.5 294.5,705.5 295.5,705.5 295.5,708.5 295.5,704.5 295.5,700.5 296.5,700.5 296.5,704.5 296.5,706.5 296.5,705.5 297.5,705.5 297.5,707.5 297.5,707.5 297.5,709.5 297.5,705.5 298.5,705.5 298.5,706.5 298.5,708.5 298.5,710.5 299.5,710.5 299.5,703.5 299.5,700.5 299.5,704.5 300.5,704.5 300.5,703.5 300.5,701.5 300.5,707.5 300.5,709.5 301.5,709.5 301.5,705.5 301.5,700.5 301.5,698.5 302.5,698.5 302.5,674.5 302.5,674.5 302.5,692.5 303.5,692.5 303.5,697.5 303.5,699.5 303.5,703.5 303.5,698.5 304.5,698.5 304.5,700.5 304.5,697.5 304.5,699.5 305.5,699.5 305.5,702.5 305.5,704.5 305.5,699.5 306.5,699.5 306.5,699.5 306.5,697.5 306.5,701.5 306.5,703.5 307.5,703.5 307.5,704.5 307.5,703.5 307.5,701.5 308.5,701.5 308.5,703.5 308.5,699.5 308.5,699.5 309.5,699.5 309.5,701.5 309.5,701.5 309.5,702.5 309.5,702.5 310.5,702.5 310.5,703.5 310.5,705.5 310.5,703.5 311.5,703.5 311.5,704.5 311.5,705.5 311.5,703.5 312.5,703.5 312.5,705.5 312.5,706.5 312.5,708.5 312.5,707.5 313.5,707.5 313.5,706.5 313.5,707.5 313.5,705.5 314.5,705.5 314.5,671.5 314.5,671.5 314.5,687.5 315.5,687.5 315.5,698.5 315.5,699.5 315.5,703.5 315.5,705.5 316.5,705.5 316.5,705.5 316.5,702.5 316.5,702.5 317.5,702.5 317.5,704.5 317.5,693.5 317.5,701.5 318.5,701.5 318.5,705.5 318.5,706.5 318.5,701.5 318.5,700.5 319.5,700.5 319.5,698.5 319.5,700.5 319.5,700.5 320.5,700.5 320.5,701.5 320.5,699.5 320.5,699.5 321.5,699.5 321.5,706.5 321.5,697.5 321.5,697.5 321.5,705.5 322.5,705.5 322.5,707.5 322.5,706.5 322.5,698.5 323.5,698.5 323.5,703.5 323.5,699.5 323.5,706.5 324.5,706.5 324.5,699.5 324.5,704.5 324.5,702.5 324.5,697.5 325.5,697.5 325.5,702.5 325.5,705.5 325.5,699.5 326.5,699.5 326.5,697.5 326.5,703.5 326.5,706.5 327.5,706.5 327.5,704.5 327.5,706.5 327.5,699.5 327.5,701.5 328.5,701.5 328.5,702.5 328.5,704.5 328.5,700.5 329.5,700.5 329.5,702.5 329.5,698.5 329.5,705.5 330.5,705.5 330.5,700.5 330.5,706.5 330.5,708.5 330.5,699.5 331.5,699.5 331.5,700.5 331.5,699.5 331.5,707.5 332.5,707.5 332.5,699.5 332.5,704.5 332.5,706.5 333.5,706.5 333.5,702.5 333.5,697.5 333.5,698.5 333.5,706.5 334.5,706.5 334.5,704.5 334.5,704.5 334.5,708.5 335.5,708.5 335.5,707.5 335.5,700.5 335.5,702.5 336.5,702.5 336.5,708.5 336.5,702.5 336.5,699.5 336.5,699.5 337.5,699.5 337.5,705.5 337.5,709.5 337.5,708.5 338.5,708.5 338.5,710.5 338.5,709.5 338.5,711.5 339.5,711.5 339.5,703.5 339.5,705.5 339.5,707.5 339.5,709.5 340.5,709.5 340.5,682.5 340.5,697.5 340.5,677.5 341.5,677.5 341.5,649.5 341.5,649.5 341.5,673.5 342.5,673.5 342.5,686.5 342.5,696.5 342.5,700.5 342.5,693.5 343.5,693.5 343.5,703.5 343.5,695.5 343.5,692.5 344.5,692.5 344.5,703.5 344.5,676.5 344.5,676.5 345.5,676.5 345.5,697.5 345.5,703.5 345.5,706.5 345.5,706.5 346.5,706.5 346.5,697.5 346.5,703.5 346.5,706.5 347.5,706.5 347.5,706.5 347.5,708.5 347.5,705.5 348.5,705.5 348.5,698.5 348.5,705.5 348.5,706.5 348.5,693.5 349.5,693.5 349.5,701.5 349.5,698.5 349.5,700.5 350.5,700.5 350.5,703.5 350.5,707.5 350.5,704.5 351.5,704.5 351.5,706.5 351.5,705.5 351.5,706.5 351.5,705.5 352.5,705.5 352.5,706.5 352.5,704.5 352.5,707.5 353.5,707.5 353.5,706.5 353.5,698.5 353.5,699.5 354.5,699.5 354.5,705.5 354.5,698.5 354.5,699.5 354.5,700.5 355.5,700.5 355.5,698.5 355.5,695.5 355.5,701.5 356.5,701.5 356.5,698.5 356.5,693.5 356.5,694.5 357.5,694.5 357.5,694.5 357.5,693.5 357.5,692.5 357.5,700.5 358.5,700.5 358.5,699.5 358.5,698.5 358.5,696.5 359.5,696.5 359.5,701.5 359.5,701.5 359.5,705.5 360.5,705.5 360.5,708.5 360.5,701.5 360.5,708.5 360.5,707.5 361.5,707.5 361.5,705.5 361.5,708.5 361.5,712.5 362.5,712.5 362.5,710.5 362.5,710.5 362.5,709.5 363.5,709.5 363.5,710.5 363.5,704.5 363.5,703.5 363.5,709.5 364.5,709.5 364.5,702.5 364.5,710.5 364.5,703.5 365.5,703.5 365.5,703.5 365.5,703.5 365.5,707.5 366.5,707.5 366.5,706.5 366.5,710.5 366.5,712.5 366.5,703.5 367.5,703.5 367.5,703.5 367.5,710.5 367.5,704.5 368.5,704.5 368.5,701.5 368.5,704.5 368.5,703.5 369.5,703.5 369.5,710.5 369.5,712.5 369.5,708.5 369.5,711.5 370.5,711.5 370.5,710.5 370.5,708.5 370.5,712.5 371.5,712.5 371.5,712.5 371.5,708.5 371.5,695.5 372.5,695.5 372.5,707.5 372.5,709.5 372.5,710.5 372.5,711.5 373.5,711.5 373.5,710.5 373.5,710.5 373.5,710.5 374.5,710.5 374.5,705.5 374.5,705.5 374.5,704.5 375.5,704.5 375.5,703.5 375.5,701.5 375.5,689.5 375.5,689.5 376.5,689.5 376.5,698.5 376.5,697.5 376.5,700.5 377.5,700.5 377.5,694.5 377.5,695.5 377.5,696.5 378.5,696.5 378.5,703.5 378.5,704.5 378.5,704.5 378.5,702.5 379.5,702.5 379.5,704.5 379.5,704.5 379.5,702.5 380.5,702.5 380.5,706.5 380.5,703.5 380.5,705.5 381.5,705.5 381.5,707.5 381.5,706.5 381.5,709.5 381.5,708.5 382.5,708.5 382.5,704.5 382.5,708.5 382.5,700.5 383.5,700.5 383.5,703.5 383.5,701.5 383.5,699.5 384.5,699.5 384.5,699.5 384.5,695.5 384.5,700.5 384.5,696.5 385.5,696.5 385.5,699.5 385.5,703.5 385.5,695.5 386.5,695.5 386.5,706.5 386.5,694.5 386.5,708.5 387.5,708.5 387.5,689.5 387.5,689.5 387.5,699.5 387.5,700.5 388.5,700.5 388.5,702.5 388.5,707.5 388.5,706.5 389.5,706.5 389.5,707.5 389.5,710.5 389.5,712.5 390.5,712.5 390.5,711.5 390.5,713.5 390.5,714.5 390.5,714.5 391.5,714.5 391.5,713.5 391.5,712.5 391.5,709.5 392.5,709.5 392.5,710.5 392.5,707.5 392.5,713.5 393.5,713.5 393.5,708.5 393.5,711.5 393.5,712.5 393.5,713.5 394.5,713.5 394.5,712.5 394.5,707.5 394.5,708.5 395.5,708.5 395.5,710.5 395.5,706.5 395.5,709.5 396.5,709.5 396.5,707.5 396.5,676.5 396.5,676.5 396.5,699.5 397.5,699.5 397.5,706.5 397.5,700.5 397.5,708.5 398.5,708.5 398.5,713.5 398.5,712.5 398.5,710.5 399.5,710.5 399.5,711.5 399.5,716.5 399.5,717.5 399.5,719.5 400.5,719.5 400.5,714.5 400.5,717.5 400.5,716.5 401.5,716.5 401.5,717.5 401.5,716.5 401.5,711.5 402.5,711.5 402.5,711.5 402.5,714.5 402.5,717.5 402.5,719.5 403.5,719.5 403.5,716.5 403.5,714.5 403.5,708.5 404.5,708.5 404.5,708.5 404.5,715.5 404.5,714.5 405.5,714.5 405.5,714.5 405.5,717.5 405.5,715.5 405.5,719.5 406.5,719.5 406.5,715.5 406.5,718.5 406.5,717.5 407.5,717.5 407.5,718.5 407.5,718.5 407.5,718.5 408.5,718.5 408.5,716.5 408.5,714.5 408.5,711.5 408.5,713.5 409.5,713.5 409.5,713.5 409.5,718.5 409.5,715.5 410.5,715.5 410.5,714.5 410.5,713.5 410.5,711.5 411.5,711.5 411.5,713.5 411.5,718.5 411.5,719.5 411.5,720.5 412.5,720.5 412.5,714.5 412.5,713.5 412.5,718.5 413.5,718.5 413.5,713.5 413.5,717.5 413.5,717.5 414.5,717.5 414.5,718.5 414.5,716.5 414.5,718.5 414.5,715.5 415.5,715.5 415.5,715.5 415.5,713.5 415.5,713.5 416.5,713.5 416.5,717.5 416.5,717.5 416.5,714.5 417.5,714.5 417.5,715.5 417.5,715.5 417.5,713.5 417.5,719.5 418.5,719.5 418.5,719.5 418.5,712.5 418.5,717.5 419.5,717.5 419.5,712.5 419.5,711.5 419.5,716.5 420.5,716.5 420.5,717.5 420.5,716.5 420.5,715.5 420.5,711.5 421.5,711.5 421.5,710.5 421.5,707.5 421.5,702.5 422.5,702.5 422.5,668.5 422.5,668.5 422.5,683.5 423.5,683.5 423.5,686.5 423.5,692.5 423.5,697.5 423.5,701.5 424.5,701.5 424.5,704.5 424.5,706.5 424.5,710.5 425.5,710.5 425.5,712.5 425.5,714.5 425.5,713.5 426.5,713.5 426.5,714.5 426.5,714.5 426.5,714.5 426.5,715.5 427.5,715.5 427.5,716.5 427.5,715.5 427.5,715.5 428.5,715.5 428.5,714.5 428.5,717.5 428.5,718.5 429.5,718.5 429.5,717.5 429.5,714.5 429.5,718.5 429.5,716.5 430.5,716.5 430.5,704.5 430.5,704.5 430.5,713.5 431.5,713.5 431.5,717.5 431.5,720.5 431.5,716.5 432.5,716.5 432.5,717.5 432.5,716.5 432.5,720.5 432.5,719.5 433.5,719.5 433.5,720.5 433.5,716.5 433.5,719.5 434.5,719.5 434.5,719.5 434.5,717.5 434.5,719.5 435.5,719.5 435.5,719.5 435.5,715.5 435.5,718.5 435.5,715.5 436.5,715.5 436.5,719.5 436.5,720.5 436.5,721.5 437.5,721.5 437.5,720.5 437.5,723.5 437.5,722.5 438.5,722.5 438.5,716.5 438.5,721.5 438.5,723.5 438.5,722.5 439.5,722.5 439.5,703.5 439.5,703.5 439.5,714.5 440.5,714.5 440.5,717.5 440.5,719.5 440.5,720.5 441.5,720.5 441.5,719.5 441.5,720.5 441.5,722.5 441.5,720.5 442.5,720.5 442.5,720.5 442.5,718.5 442.5,721.5 443.5,721.5 443.5,722.5 443.5,721.5 443.5,721.5 444.5,721.5 444.5,721.5 444.5,721.5 444.5,719.5 444.5,718.5 445.5,718.5 445.5,719.5 445.5,720.5 445.5,722.5 446.5,722.5 446.5,722.5 446.5,720.5 446.5,723.5 447.5,723.5 447.5,722.5 447.5,722.5 447.5,720.5 447.5,719.5 448.5,719.5 448.5,721.5 448.5,724.5 448.5,724.5 449.5,724.5 449.5,723.5 449.5,723.5 449.5,716.5 450.5,716.5 450.5,720.5 450.5,720.5 450.5,722.5 450.5,722.5 451.5,722.5 451.5,724.5 451.5,723.5 451.5,723.5 452.5,723.5 452.5,724.5 452.5,725.5 452.5,724.5 453.5,724.5 453.5,725.5 453.5,726.5 453.5,726.5 453.5,725.5 454.5,725.5 454.5,725.5 454.5,727.5 454.5,727.5 455.5,727.5 455.5,724.5 455.5,723.5 455.5,725.5 456.5,725.5 456.5,723.5 456.5,724.5 456.5,726.5 456.5,725.5 457.5,725.5 457.5,725.5 457.5,725.5 457.5,727.5 458.5,727.5 458.5,724.5 458.5,725.5 458.5,725.5 459.5,725.5 459.5,726.5 459.5,726.5 459.5,717.5 459.5,720.5 460.5,720.5 460.5,723.5 460.5,714.5 460.5,718.5 461.5,718.5 461.5,708.5 461.5,708.5 461.5,718.5 462.5,718.5 462.5,724.5 462.5,724.5 462.5,725.5 462.5,726.5 463.5,726.5 463.5,726.5 463.5,728.5 463.5,728.5 464.5,728.5 464.5,728.5 464.5,729.5 464.5,727.5 465.5,727.5 465.5,727.5 465.5,727.5 465.5,723.5 465.5,723.5 466.5,723.5 466.5,726.5 466.5,729.5 466.5,728.5 467.5,728.5 467.5,718.5 467.5,718.5 467.5,726.5 468.5,726.5 468.5,729.5 468.5,731.5 468.5,731.5 468.5,729.5 469.5,729.5 469.5,727.5 469.5,726.5 469.5,729.5 470.5,729.5 470.5,729.5 470.5,730.5 470.5,731.5 471.5,731.5 471.5,730.5 471.5,731.5 471.5,731.5 471.5,731.5 472.5,731.5 472.5,731.5 472.5,730.5 472.5,731.5 473.5,731.5 473.5,730.5 473.5,731.5 473.5,730.5 474.5,730.5 474.5,731.5 474.5,729.5 474.5,730.5 474.5,730.5 475.5,730.5 475.5,731.5 475.5,731.5 475.5,731.5 476.5,731.5 476.5,730.5 476.5,732.5 476.5,730.5 477.5,730.5 477.5,732.5 477.5,732.5 477.5,731.5 477.5,730.5 478.5,730.5 478.5,729.5 478.5,730.5 478.5,730.5 479.5,730.5 479.5,731.5 479.5,733.5 479.5,733.5 480.5,733.5 480.5,731.5 480.5,730.5 480.5,732.5 480.5,732.5 481.5,732.5 481.5,705.5 481.5,705.5 481.5,723.5 482.5,723.5 482.5,730.5 482.5,732.5 482.5,733.5 483.5,733.5 483.5,733.5 483.5,733.5 483.5,732.5 483.5,733.5 484.5,733.5 484.5,734.5 484.5,734.5 484.5,734.5 485.5,734.5 485.5,733.5 485.5,734.5 485.5,735.5 486.5,735.5 486.5,729.5 486.5,732.5 486.5,733.5 486.5,724.5 487.5,724.5 487.5,724.5 487.5,732.5 487.5,734.5 488.5,734.5 488.5,735.5 488.5,736.5 488.5,736.5 489.5,736.5 489.5,734.5 489.5,735.5 489.5,735.5 489.5,734.5 490.5,734.5 490.5,733.5 490.5,734.5 490.5,734.5 491.5,734.5 491.5,735.5 491.5,735.5 491.5,735.5 492.5,735.5 492.5,735.5 492.5,736.5 492.5,737.5 492.5,736.5 493.5,736.5 493.5,734.5 493.5,736.5 493.5,734.5 494.5,734.5 494.5,735.5 494.5,737.5 494.5,736.5 495.5,736.5 495.5,737.5 495.5,737.5 495.5,736.5 495.5,737.5 496.5,737.5 496.5,736.5 496.5,737.5 496.5,737.5 497.5,737.5 497.5,738.5 497.5,738.5 497.5,739.5 498.5,739.5 498.5,734.5 498.5,735.5 498.5,737.5 498.5,736.5 499.5,736.5 499.5,737.5 499.5,738.5 499.5,739.5 500.5,739.5 500.5,737.5 500.5,738.5 500.5,738.5 501.5,738.5 501.5,738.5 501.5,739.5 501.5,738.5 501.5,739.5 502.5,739.5 502.5,739.5 502.5,738.5 502.5,737.5 503.5,737.5 503.5,736.5 503.5,736.5 503.5,739.5 504.5,739.5 504.5,740.5 504.5,740.5 504.5,738.5 504.5,738.5 505.5,738.5 505.5,739.5 505.5,739.5 505.5,739.5 506.5,739.5 506.5,740.5 506.5,739.5 506.5,739.5 507.5,739.5 507.5,738.5 507.5,738.5 507.5,739.5 507.5,740.5 508.5,740.5 508.5,740.5 508.5,741.5 508.5,741.5 509.5,741.5 509.5,741.5 509.5,740.5 509.5,740.5 510.5,740.5 510.5,740.5 510.5,741.5 510.5,742.5 510.5,740.5 511.5,740.5 511.5,742.5 511.5,741.5 511.5,742.5 512.5,742.5 512.5,742.5 512.5,742.5 512.5,742.5 513.5,742.5 513.5,741.5 513.5,741.5 513.5,742.5 513.5,741.5 514.5,741.5 514.5,742.5 514.5,732.5 514.5,732.5 515.5,732.5 515.5,741.5 515.5,744.5 515.5,745.5 516.5,745.5 516.5,746.5 516.5,746.5 516.5,745.5 516.5,745.5 517.5,745.5 517.5,745.5 517.5,744.5 517.5,741.5 518.5,741.5 518.5,741.5 518.5,741.5 518.5,743.5 519.5,743.5 519.5,742.5 519.5,743.5 519.5,745.5 519.5,743.5 520.5,743.5 520.5,745.5 520.5,745.5 520.5,745.5 521.5,745.5 521.5,744.5 521.5,743.5 521.5,739.5 522.5,739.5 522.5,741.5 522.5,743.5 522.5,746.5 522.5,746.5 523.5,746.5 523.5,745.5 523.5,743.5 523.5,745.5 524.5,745.5 524.5,744.5 524.5,743.5 524.5,743.5 525.5,743.5 525.5,743.5 525.5,743.5 525.5,745.5 525.5,746.5 526.5,746.5 526.5,743.5 526.5,743.5 526.5,739.5 527.5,739.5 527.5,733.5 527.5,733.5 527.5,737.5 528.5,737.5 528.5,738.5 528.5,735.5 528.5,741.5 528.5,742.5 529.5,742.5 529.5,745.5 529.5,745.5 529.5,747.5 530.5,747.5 530.5,748.5 530.5,746.5 530.5,747.5 531.5,747.5 531.5,748.5 531.5,747.5 531.5,748.5 531.5,747.5 532.5,747.5 532.5,747.5 532.5,746.5 532.5,746.5 533.5,746.5 533.5,743.5 533.5,745.5 533.5,742.5 534.5,742.5 534.5,746.5 534.5,748.5 534.5,749.5 534.5,742.5 535.5,742.5 535.5,743.5 535.5,748.5 535.5,750.5 536.5,750.5 536.5,749.5 536.5,749.5 536.5,748.5 537.5,748.5 537.5,749.5 537.5,747.5 537.5,746.5 537.5,746.5 538.5,746.5 538.5,746.5 538.5,747.5 538.5,749.5 539.5,749.5 539.5,749.5 539.5,748.5 539.5,748.5 540.5,748.5 540.5,750.5 540.5,749.5 540.5,749.5 540.5,749.5 541.5,749.5 541.5,749.5 541.5,748.5 541.5,724.5 542.5,724.5 542.5,724.5 542.5,733.5 542.5,737.5 543.5,737.5 543.5,740.5 543.5,743.5 543.5,745.5 543.5,747.5 544.5,747.5 544.5,749.5 544.5,749.5 544.5,751.5 545.5,751.5 545.5,751.5 545.5,751.5 545.5,752.5 546.5,752.5 546.5,753.5 546.5,752.5 546.5,752.5 546.5,750.5 547.5,750.5 547.5,752.5 547.5,753.5 547.5,753.5 548.5,753.5 548.5,751.5 548.5,750.5 548.5,750.5 549.5,750.5 549.5,749.5 549.5,750.5 549.5,751.5 549.5,750.5 550.5,750.5 550.5,742.5 550.5,742.5 550.5,749.5 551.5,749.5 551.5,748.5 551.5,751.5 551.5,749.5 552.5,749.5 552.5,749.5 552.5,750.5 552.5,751.5 552.5,752.5 553.5,752.5 553.5,752.5 553.5,752.5 553.5,753.5 554.5,753.5 554.5,751.5 554.5,750.5 554.5,751.5 555.5,751.5 555.5,750.5 555.5,747.5"/><rect x="82" y="755" width="1" height="6" fill="#0000ff"/><rect x="83" y="757" width="1" height="4" fill="#0000ff"/><rect x="86" y="757" width="1" height="4" fill="#0000ff"/><rect x="118" y="747" width="1" height="14" fill="#0000ff"/><rect x="130" y="731" width="1" height="30" fill="#0000ff"/><rect x="151" y="755" width="1" height="6" fill="#0000ff"/><rect x="177" y="734" width="1" height="27" fill="#0000ff"/><rect x="179" y="757" width="1" height="4" fill="#0000ff"/><rect x="186" y="734" width="1" height="27" fill="#0000ff"/><rect x="188" y="743" width="1" height="18" fill="#0000ff"/><rect x="220" y="757" width="1" height="4" fill="#0000ff"/><rect x="221" y="721" width="1" height="40" fill="#0000ff"/><rect x="235" y="753" width="1" height="8" fill="#0000ff"/><rect x="256" y="731" width="1" height="30" fill="#0000ff"/><rect x="266" y="653" width="1" height="108" fill="#0000ff"/><rect x="267" y="728" width="1" height="33" fill="#0000ff"/><rect x="269" y="750" width="1" height="11" fill="#0000ff"/><rect x="273" y="760" width="1" height="1" fill="#0000ff"/><rect x="277" y="692" width="1" height="69" fill="#0000ff"/><rect x="278" y="744" width="1" height="17" fill="#0000ff"/><rect x="281" y="741" width="1" height="20" fill="#0000ff"/><rect x="282" y="755" width="1" height="6" fill="#0000ff"/><rect x="284" y="754" width="1" height="7" fill="#0000ff"/><rect x="285" y="754" width="1" height="7" fill="#0000ff"/><rect x="302" y="715" width="1" height="46" fill="#0000ff"/><rect x="303" y="757" width="1" height="4" fill="#0000ff"/><rect x="314" y="720" width="1" height="41" fill="#0000ff"/><rect x="339" y="720" width="1" height="41" fill="#0000ff"/><rect x="340" y="725" width="1" height="36" fill="#0000ff"/><rect x="341" y="688" width="1" height="73" fill="#0000ff"/><rect x="344" y="718" width="1" height="43" fill="#0000ff"/><rect x="375" y="753" width="1" height="8" fill="#0000ff"/><rect x="387" y="743" width="1" height="18" fill="#0000ff"/><rect x="396" y="722" width="1" height="39" fill="#0000ff"/><rect x="422" y="714" width="1" height="47" fill="#0000ff"/><rect x="423" y="728" width="1" height="33" fill="#0000ff"/><rect x="481" y="754" width="1" height="7" fill="#0000ff"/><rect x="51" y="761" width="505" height="1" fill="#000"/><rect x="555" y="532" width="1" height="230" fill="#000"/><path d="M265.5 16.5 L265.5 23.5M265.5 16.5 L270.5 23.5M270.5 16.5 L270.5 23.5M274.5 16.5 L271.5 23.5M274.5 16.5 L277.5 23.5M272.5 21.5 L276.5 21.5M279.5 16.5 L279.5 23.5M279.5 16.5 L282.5 16.5 L283.5 16.5 L283.5 17.5 L283.5 17.5 L283.5 18.5 L283.5 19.5 L283.5 19.5 L282.5 19.5 L279.5 19.5M281.5 19.5 L283.5 23.5M291.5 16.5 L291.5 23.5M291.5 23.5 L295.5 23.5M298.5 18.5 L298.5 19.5 L297.5 19.5 L297.5 20.5 L297.5 21.5 L297.5 22.5 L298.5 23.5 L298.5 23.5 L299.5 23.5 L300.5 23.5 L301.5 22.5 L301.5 21.5 L301.5 20.5 L301.5 19.5 L300.5 19.5 L299.5 18.5 L298.5 18.5M303.5 18.5 L303.5 23.5M303.5 20.5 L304.5 19.5 L305.5 18.5 L306.5 18.5 L307.5 19.5 L307.5 20.5 L307.5 23.5M313.5 18.5 L313.5 24.5 L313.5 25.5 L313.5 25.5 L312.5 25.5 L311.5 25.5 L310.5 25.5M313.5 19.5 L313.5 19.5 L312.5 18.5 L311.5 18.5 L310.5 19.5 L310.5 19.5 L309.5 20.5 L309.5 21.5 L310.5 22.5 L310.5 23.5 L311.5 23.5 L312.5 23.5 L313.5 23.5 L313.5 22.5M316.5 16.5 L316.5 16.5 L317.5 16.5 L316.5 16.5 L316.5 16.5M316.5 18.5 L316.5 23.5M319.5 16.5 L319.5 22.5 L320.5 23.5 L320.5 23.5 L321.5 23.5M318.5 18.5 L321.5 18.5M323.5 18.5 L323.5 22.5 L323.5 23.5 L324.5 23.5 L325.5 23.5 L326.5 23.5 L327.5 22.5M327.5 18.5 L327.5 23.5M333.5 16.5 L333.5 23.5M333.5 19.5 L332.5 19.5 L332.5 18.5 L331.5 18.5 L330.5 19.5 L329.5 19.5 L329.5 20.5 L329.5 21.5 L329.5 22.5 L330.5 23.5 L331.5 23.5 L332.5 23.5 L332.5 23.5 L333.5 22.5M336.5 20.5 L340.5 20.5 L340.5 20.5 L339.5 19.5 L339.5 19.5 L338.5 18.5 L337.5 18.5 L337.5 19.5 L336.5 19.5 L336.5 20.5 L336.5 21.5 L336.5 22.5 L337.5 23.5 L337.5 23.5 L338.5 23.5 L339.5 23.5 L340.5 22.5" stroke="#000" stroke-width="0.93" fill="none" stroke-linecap="square" shape-rendering="crispEdges"/><path d="M74.5 30.5 L81.5 30.5M87.5 28.5 L87.5 29.5 L86.5 30.5 L85.5 30.5 L85.5 30.5 L84.5 30.5 L83.5 29.5 L83.5 28.5 L83.5 28.5 L83.5 27.5 L84.5 26.5 L85.5 26.5 L85.5 26.5 L86.5 26.5 L87.5 27.5 L87.5 28.5 L87.5 30.5 L87.5 32.5 L86.5 33.5 L85.5 33.5 L85.5 33.5 L84.5 33.5 L83.5 32.5M92.5 26.5 L91.5 26.5 L90.5 27.5 L90.5 29.5 L90.5 30.5 L90.5 32.5 L91.5 33.5 L92.5 33.5 L92.5 33.5 L94.5 33.5 L94.5 32.5 L95.5 30.5 L95.5 29.5 L94.5 27.5 L94.5 26.5 L92.5 26.5 L92.5 26.5" stroke="#000" stroke-width="0.93" fill="none" stroke-linecap="square" shape-rendering="crispEdges"/><path d="M147.5 30.5 L153.5 30.5M160.5 27.5 L160.5 26.5 L159.5 26.5 L158.5 26.5 L157.5 26.5 L156.5 27.5 L156.5 29.5 L156.5 31.5 L156.5 32.5 L157.5 33.5 L158.5 33.5 L158.5 33.5 L159.5 33.5 L160.5 32.5 L160.5 31.5 L160.5 31.5 L160.5 30.5 L159.5 29.5 L158.5 29.5 L158.5 29.5 L157.5 29.5 L156.5 30.5 L156.5 31.5M164.5 26.5 L163.5 26.5 L163.5 27.5 L162.5 29.5 L162.5 30.5 L163.5 32.5 L163.5 33.5 L164.5 33.5 L165.5 33.5 L166.5 33.5 L167.5 32.5 L167.5 30.5 L167.5 29.5 L167.5 27.5 L166.5 26.5 L165.5 26.5 L164.5 26.5" stroke="#000" stroke-width="0.93" fill="none" stroke-linecap="square" shape-rendering="crispEdges"/><path d="M220.5 30.5 L226.5 30.5M229.5 26.5 L233.5 26.5 L231.5 29.5 L232.5 29.5 L233.5 29.5 L233.5 29.5 L233.5 30.5 L233.5 31.5 L233.5 32.5 L232.5 33.5 L231.5 33.5 L230.5 33.5 L229.5 33.5 L229.5 32.5 L228.5 32.5M237.5 26.5 L236.5 26.5 L236.5 27.5 L235.5 29.5 L235.5 30.5 L236.5 32.5 L236.5 33.5 L237.5 33.5 L238.5 33.5 L239.5 33.5 L240.5 32.5 L240.5 30.5 L240.5 29.5 L240.5 27.5 L239.5 26.5 L238.5 26.5 L237.5 26.5" stroke="#000" stroke-width="0.93" fill="none" stroke-linecap="square" shape-rendering="crispEdges"/><path d="M303.5 26.5 L302.5 26.5 L301.5 27.5 L301.5 29.5 L301.5 30.5 L301.5 32.5 L302.5 33.5 L303.5 33.5 L304.5 33.5 L305.5 33.5 L306.5 32.5 L306.5 30.5 L306.5 29.5 L306.5 27.5 L305.5 26.5 L304.5 26.5 L303.5 26.5" stroke="#000" stroke-width="0.93" fill="none" stroke-linecap="square" shape-rendering="crispEdges"/><path d="M371.5 26.5 L375.5 26.5 L373.5 29.5 L374.5 29.5 L374.5 29.5 L375.5 29.5 L375.5 30.5 L375.5 31.5 L375.5 32.5 L374.5 33.5 L373.5 33.5 L372.5 33.5 L371.5 33.5 L371.5 32.5 L370.5 32.5M379.5 26.5 L378.5 26.5 L377.5 27.5 L377.5 29.5 L377.5 30.5 L377.5 32.5 L378.5 33.5 L379.5 33.5 L380.5 33.5 L381.5 33.5 L381.5 32.5 L382.5 30.5 L382.5 29.5 L381.5 27.5 L381.5 26.5 L380.5 26.5 L379.5 26.5" stroke="#000" stroke-width="0.93" fill="none" stroke-linecap="square" shape-rendering="crispEdges"/><path d="M447.5 27.5 L447.5 26.5 L446.5 26.5 L445.5 26.5 L444.5 26.5 L444.5 27.5 L443.5 29.5 L443.5 31.5 L444.5 32.5 L444.5 33.5 L445.5 33.5 L446.5 33.5 L447.5 33.5 L447.5 32.5 L448.5 31.5 L448.5 31.5 L447.5 30.5 L447.5 29.5 L446.5 29.5 L445.5 29.5 L444.5 29.5 L444.5 30.5 L443.5 31.5M452.5 26.5 L451.5 26.5 L450.5 27.5 L450.5 29.5 L450.5 30.5 L450.5 32.5 L451.5 33.5 L452.5 33.5 L453.5 33.5 L454.5 33.5 L454.5 32.5 L455.5 30.5 L455.5 29.5 L454.5 27.5 L454.5 26.5 L453.5 26.5 L452.5 26.5" stroke="#000" stroke-width="0.93" fill="none" stroke-linecap="square" shape-rendering="crispEdges"/><path d="M521.5 28.5 L521.5 29.5 L520.5 30.5 L519.5 30.5 L519.5 30.5 L518.5 30.5 L517.5 29.5 L517.5 28.5 L517.5 28.5 L517.5 27.5 L518.5 26.5 L519.5 26.5 L519.5 26.5 L520.5 26.5 L521.5 27.5 L521.5 28.5 L521.5 30.5 L521.5 32.5 L520.5 33.5 L519.5 33.5 L518.5 33.5 L517.5 33.5 L517.5 32.5M526.5 26.5 L525.5 26.5 L524.5 27.5 L524.5 29.5 L524.5 30.5 L524.5 32.5 L525.5 33.5 L526.5 33.5 L526.5 33.5 L527.5 33.5 L528.5 32.5 L528.5 30.5 L528.5 29.5 L528.5 27.5 L527.5 26.5 L526.5 26.5 L526.5 26.5" stroke="#000" stroke-width="0.93" fill="none" stroke-linecap="square" shape-rendering="crispEdges"/><path d="M466.5 10.5 L466.5 20.5M466.5 20.5 L472.5 20.5M480.5 13.5 L480.5 20.5M480.5 15.5 L479.5 14.5 L478.5 13.5 L476.5 13.5 L475.5 14.5 L474.5 15.5 L474.5 16.5 L474.5 17.5 L474.5 19.5 L475.5 20.5 L476.5 20.5 L478.5 20.5 L479.5 20.5 L480.5 19.5M484.5 10.5 L484.5 18.5 L485.5 20.5 L486.5 20.5 L487.5 20.5M483.5 13.5 L486.5 13.5M490.5 13.5 L490.5 14.5 L490.5 14.5 L490.5 14.5 L490.5 13.5M490.5 19.5 L490.5 20.5 L490.5 20.5 L490.5 20.5 L490.5 19.5" stroke="#000" stroke-width="0.93" fill="none" stroke-linecap="square" shape-rendering="crispEdges"/><path d="M513.5 11.5 L513.5 20.5M509.5 16.5 L518.5 16.5M527.5 10.5 L522.5 10.5 L522.5 14.5 L522.5 14.5 L524.5 13.5 L525.5 13.5 L527.5 14.5 L527.5 15.5 L528.5 16.5 L528.5 17.5 L527.5 19.5 L527.5 20.5 L525.5 20.5 L524.5 20.5 L522.5 20.5 L522.5 19.5 L521.5 18.5M532.5 19.5 L531.5 20.5 L532.5 20.5 L532.5 20.5 L532.5 19.5M542.5 13.5 L542.5 15.5 L541.5 16.5 L539.5 16.5 L539.5 16.5 L537.5 16.5 L536.5 15.5 L536.5 13.5 L536.5 13.5 L536.5 11.5 L537.5 10.5 L539.5 10.5 L539.5 10.5 L541.5 10.5 L542.5 11.5 L542.5 13.5 L542.5 16.5 L542.5 18.5 L541.5 20.5 L539.5 20.5 L538.5 20.5 L537.5 20.5 L536.5 19.5M546.5 12.5 L546.5 12.5 L546.5 11.5 L547.5 10.5 L548.5 10.5 L550.5 10.5 L551.5 10.5 L551.5 11.5 L552.5 12.5 L552.5 13.5 L551.5 14.5 L550.5 15.5 L545.5 20.5 L552.5 20.5" stroke="#000" stroke-width="0.93" fill="none" stroke-linecap="square" shape-rendering="crispEdges"/><path d="M103.5 44.5 L103.5 56.5M103.5 44.5 L112.5 56.5M112.5 44.5 L112.5 56.5M120.5 44.5 L115.5 56.5M120.5 44.5 L125.5 56.5M117.5 52.5 L123.5 52.5M129.5 44.5 L129.5 56.5M129.5 44.5 L134.5 44.5 L136.5 45.5 L137.5 46.5 L138.5 47.5 L138.5 48.5 L137.5 49.5 L136.5 49.5 L134.5 50.5 L129.5 50.5M133.5 50.5 L138.5 56.5M154.5 47.5 L155.5 46.5 L157.5 44.5 L157.5 56.5M165.5 47.5 L165.5 47.5 L166.5 46.5 L166.5 45.5 L168.5 44.5 L170.5 44.5 L171.5 45.5 L172.5 46.5 L173.5 47.5 L173.5 48.5 L172.5 49.5 L171.5 50.5 L164.5 56.5 L173.5 56.5M179.5 47.5 L180.5 46.5 L182.5 44.5 L182.5 56.5M192.5 47.5 L193.5 46.5 L195.5 44.5 L195.5 56.5M205.5 47.5 L206.5 46.5 L208.5 44.5 L208.5 56.5M104.5 44.5 L104.5 56.5M104.5 44.5 L113.5 56.5M113.5 44.5 L113.5 56.5M121.5 44.5 L116.5 56.5M121.5 44.5 L126.5 56.5M118.5 52.5 L124.5 52.5M130.5 44.5 L130.5 56.5M130.5 44.5 L135.5 44.5 L137.5 45.5 L138.5 46.5 L139.5 47.5 L139.5 48.5 L138.5 49.5 L137.5 49.5 L135.5 50.5 L130.5 50.5M134.5 50.5 L139.5 56.5M155.5 47.5 L156.5 46.5 L158.5 44.5 L158.5 56.5M166.5 47.5 L166.5 47.5 L167.5 46.5 L167.5 45.5 L169.5 44.5 L171.5 44.5 L172.5 45.5 L173.5 46.5 L174.5 47.5 L174.5 48.5 L173.5 49.5 L172.5 50.5 L165.5 56.5 L174.5 56.5M180.5 47.5 L181.5 46.5 L183.5 44.5 L183.5 56.5M193.5 47.5 L194.5 46.5 L196.5 44.5 L196.5 56.5M206.5 47.5 L207.5 46.5 L209.5 44.5 L209.5 56.5" stroke="#000" stroke-width="0.93" fill="none" stroke-linecap="square" shape-rendering="crispEdges"/><path d="M45.5 220.5 L44.5 220.5 L43.5 221.5 L42.5 223.5 L42.5 224.5 L43.5 226.5 L44.5 227.5 L45.5 227.5 L45.5 227.5 L46.5 227.5 L47.5 226.5 L47.5 224.5 L47.5 223.5 L47.5 221.5 L46.5 220.5 L45.5 220.5 L45.5 220.5" stroke="#000" stroke-width="0.93" fill="none" stroke-linecap="square" shape-rendering="crispEdges"/><path d="M29.5 178.5 L30.5 178.5 L31.5 177.5 L31.5 184.5M38.5 177.5 L36.5 177.5 L36.5 178.5 L35.5 180.5 L35.5 181.5 L36.5 183.5 L36.5 184.5 L38.5 184.5 L38.5 184.5 L39.5 184.5 L40.5 183.5 L40.5 181.5 L40.5 180.5 L40.5 178.5 L39.5 177.5 L38.5 177.5 L38.5 177.5M45.5 177.5 L44.5 177.5 L43.5 178.5 L42.5 180.5 L42.5 181.5 L43.5 183.5 L44.5 184.5 L45.5 184.5 L45.5 184.5 L46.5 184.5 L47.5 183.5 L47.5 181.5 L47.5 180.5 L47.5 178.5 L46.5 177.5 L45.5 177.5 L45.5 177.5" stroke="#000" stroke-width="0.93" fill="none" stroke-linecap="square" shape-rendering="crispEdges"/><path d="M29.5 131.5 L29.5 130.5 L29.5 130.5 L29.5 129.5 L30.5 129.5 L32.5 129.5 L32.5 129.5 L33.5 130.5 L33.5 130.5 L33.5 131.5 L33.5 132.5 L32.5 133.5 L28.5 136.5 L33.5 136.5M38.5 129.5 L36.5 129.5 L36.5 130.5 L35.5 132.5 L35.5 133.5 L36.5 135.5 L36.5 136.5 L38.5 136.5 L38.5 136.5 L39.5 136.5 L40.5 135.5 L40.5 133.5 L40.5 132.5 L40.5 130.5 L39.5 129.5 L38.5 129.5 L38.5 129.5M45.5 129.5 L44.5 129.5 L43.5 130.5 L42.5 132.5 L42.5 133.5 L43.5 135.5 L44.5 136.5 L45.5 136.5 L45.5 136.5 L46.5 136.5 L47.5 135.5 L47.5 133.5 L47.5 132.5 L47.5 130.5 L46.5 129.5 L45.5 129.5 L45.5 129.5" stroke="#000" stroke-width="0.93" fill="none" stroke-linecap="square" shape-rendering="crispEdges"/><path d="M29.5 82.5 L33.5 82.5 L31.5 85.5 L32.5 85.5 L33.5 85.5 L33.5 85.5 L33.5 86.5 L33.5 87.5 L33.5 88.5 L32.5 89.5 L31.5 89.5 L30.5 89.5 L29.5 89.5 L29.5 88.5 L28.5 88.5M38.5 82.5 L36.5 82.5 L36.5 83.5 L35.5 85.5 L35.5 86.5 L36.5 88.5 L36.5 89.5 L38.5 89.5 L38.5 89.5 L39.5 89.5 L40.5 88.5 L40.5 86.5 L40.5 85.5 L40.5 83.5 L39.5 82.5 L38.5 82.5 L38.5 82.5M45.5 82.5 L44.5 82.5 L43.5 83.5 L42.5 85.5 L42.5 86.5 L43.5 88.5 L44.5 89.5 L45.5 89.5 L45.5 89.5 L46.5 89.5 L47.5 88.5 L47.5 86.5 L47.5 85.5 L47.5 83.5 L46.5 82.5 L45.5 82.5 L45.5 82.5" stroke="#000" stroke-width="0.93" fill="none" stroke-linecap="square" shape-rendering="crispEdges"/><path d="M32.5 37.5 L28.5 42.5 L34.5 42.5M32.5 37.5 L32.5 44.5M38.5 37.5 L36.5 37.5 L36.5 38.5 L35.5 40.5 L35.5 41.5 L36.5 43.5 L36.5 44.5 L38.5 44.5 L38.5 44.5 L39.5 44.5 L40.5 43.5 L40.5 41.5 L40.5 40.5 L40.5 38.5 L39.5 37.5 L38.5 37.5 L38.5 37.5M45.5 37.5 L44.5 37.5 L43.5 38.5 L42.5 40.5 L42.5 41.5 L43.5 43.5 L44.5 44.5 L45.5 44.5 L45.5 44.5 L46.5 44.5 L47.5 43.5 L47.5 41.5 L47.5 40.5 L47.5 38.5 L46.5 37.5 L45.5 37.5 L45.5 37.5" stroke="#000" stroke-width="0.93" fill="none" stroke-linecap="square" shape-rendering="crispEdges"/><path d="M561 155h1v1h-1zM562 155h1v1h-1zM564 155h1v1h-1zM560 156h1v1h-1zM562 156h1v1h-1zM564 156h1v1h-1zM559 157h1v1h-1zM562 157h1v1h-1zM564 157h1v1h-1zM559 158h1v1h-1zM563 158h1v1h-1zM559 159h1v1h-1zM562 159h1v1h-1zM559 160h1v1h-1zM560 160h1v1h-1zM561 160h1v1h-1zM563 160h1v1h-1zM564 160h1v1h-1z" fill="#0000ff"/><path d="M561 129h1v1h-1zM562 129h1v1h-1zM563 129h1v1h-1zM560 130h1v1h-1zM563 130h1v1h-1zM560 131h1v1h-1zM561 131h1v1h-1zM562 131h1v1h-1zM563 131h1v1h-1zM562 132h1v1h-1zM559 133h1v1h-1zM560 133h1v1h-1zM563 133h1v1h-1zM559 134h1v1h-1zM563 134h1v1h-1zM559 135h1v1h-1zM560 135h1v1h-1zM561 135h1v1h-1zM562 135h1v1h-1zM559 136h1v1h-1zM559 137h1v1h-1zM559 138h1v1h-1zM559 139h1v1h-1z" fill="#0000ff"/><path d="M561 106h1v1h-1zM562 106h1v1h-1zM563 106h1v1h-1zM560 107h1v1h-1zM563 107h1v1h-1zM560 108h1v1h-1zM561 108h1v1h-1zM562 108h1v1h-1zM563 108h1v1h-1zM562 109h1v1h-1zM559 110h1v1h-1zM560 110h1v1h-1zM563 110h1v1h-1zM559 111h1v1h-1zM563 111h1v1h-1zM559 112h1v1h-1zM560 112h1v1h-1zM561 112h1v1h-1zM562 112h1v1h-1zM559 113h1v1h-1zM559 114h1v1h-1zM559 115h1v1h-1zM559 116h1v1h-1zM565 109h1v1h-1zM566 108h1v1h-1zM567 109h1v1h-1zM568 110h1v1h-1zM569 111h1v1h-1zM570 108h1v1h-1zM570 109h1v1h-1zM570 110h1v1h-1zM568 112h1v1h-1zM567 112h1v1h-1zM567 113h1v1h-1zM567 114h1v1h-1zM567 115h1v1h-1zM566 116h1v1h-1z" fill="#0000ff"/><path d="M561 82h1v1h-1zM562 82h1v1h-1zM563 82h1v1h-1zM560 83h1v1h-1zM563 83h1v1h-1zM560 84h1v1h-1zM561 84h1v1h-1zM562 84h1v1h-1zM563 84h1v1h-1zM562 85h1v1h-1zM559 86h1v1h-1zM560 86h1v1h-1zM563 86h1v1h-1zM559 87h1v1h-1zM563 87h1v1h-1zM559 88h1v1h-1zM560 88h1v1h-1zM561 88h1v1h-1zM562 88h1v1h-1zM559 89h1v1h-1zM559 90h1v1h-1zM559 91h1v1h-1zM559 92h1v1h-1zM567 82h1v1h-1zM568 82h1v1h-1zM567 83h1v1h-1zM569 83h1v1h-1zM567 84h1v1h-1zM568 84h1v1h-1zM565 85h1v1h-1zM566 85h1v1h-1zM567 85h1v1h-1zM565 86h1v1h-1zM569 86h1v1h-1zM565 87h1v1h-1zM569 87h1v1h-1zM565 88h1v1h-1zM569 88h1v1h-1zM566 89h1v1h-1zM567 89h1v1h-1zM568 89h1v1h-1z" fill="#0000ff"/><path d="M561 58h1v1h-1zM562 58h1v1h-1zM563 58h1v1h-1zM560 59h1v1h-1zM563 59h1v1h-1zM560 60h1v1h-1zM561 60h1v1h-1zM562 60h1v1h-1zM563 60h1v1h-1zM562 61h1v1h-1zM559 62h1v1h-1zM560 62h1v1h-1zM563 62h1v1h-1zM559 63h1v1h-1zM563 63h1v1h-1zM559 64h1v1h-1zM560 64h1v1h-1zM561 64h1v1h-1zM562 64h1v1h-1zM559 65h1v1h-1zM559 66h1v1h-1zM559 67h1v1h-1zM559 68h1v1h-1zM565 61h1v1h-1zM566 60h1v1h-1zM567 61h1v1h-1zM568 62h1v1h-1zM569 63h1v1h-1zM570 60h1v1h-1zM570 61h1v1h-1zM570 62h1v1h-1zM568 64h1v1h-1zM567 64h1v1h-1zM567 65h1v1h-1zM567 66h1v1h-1zM567 67h1v1h-1zM566 68h1v1h-1zM574 58h1v1h-1zM575 58h1v1h-1zM574 59h1v1h-1zM576 59h1v1h-1zM574 60h1v1h-1zM575 60h1v1h-1zM572 61h1v1h-1zM573 61h1v1h-1zM574 61h1v1h-1zM572 62h1v1h-1zM576 62h1v1h-1zM572 63h1v1h-1zM576 63h1v1h-1zM572 64h1v1h-1zM576 64h1v1h-1zM573 65h1v1h-1zM574 65h1v1h-1zM575 65h1v1h-1z" fill="#0000ff"/><path d="M11.5 156.5 L18.5 156.5M11.5 156.5 L18.5 151.5M11.5 151.5 L18.5 151.5M11.5 147.5 L18.5 149.5M11.5 147.5 L18.5 144.5M16.5 148.5 L16.5 145.5M11.5 142.5 L18.5 142.5M11.5 142.5 L11.5 139.5 L11.5 138.5 L12.5 138.5 L12.5 137.5 L13.5 137.5 L14.5 138.5 L14.5 138.5 L14.5 139.5 L14.5 142.5M14.5 140.5 L18.5 137.5M11.5 128.5 L18.5 131.5M11.5 128.5 L18.5 125.5M16.5 130.5 L16.5 126.5M13.5 123.5 L18.5 123.5M15.5 123.5 L14.5 123.5 L14.5 122.5 L13.5 122.5 L13.5 121.5M15.5 119.5 L15.5 115.5 L15.5 115.5 L14.5 116.5 L14.5 116.5 L13.5 117.5 L13.5 118.5 L14.5 118.5 L14.5 119.5 L15.5 119.5 L16.5 119.5 L17.5 119.5 L18.5 118.5 L18.5 118.5 L18.5 117.5 L18.5 116.5 L17.5 115.5M13.5 109.5 L18.5 109.5M14.5 109.5 L14.5 110.5 L13.5 110.5 L13.5 111.5 L14.5 112.5 L14.5 113.5 L15.5 113.5 L16.5 113.5 L17.5 113.5 L18.5 112.5 L18.5 111.5 L18.5 110.5 L18.5 110.5 L17.5 109.5" stroke="#000" stroke-width="0.93" fill="none" stroke-linecap="square" shape-rendering="crispEdges"/><path d="M581.5 138.5 L588.5 138.5M581.5 138.5 L588.5 135.5M581.5 133.5 L588.5 135.5M581.5 133.5 L588.5 133.5M583.5 126.5 L588.5 126.5M584.5 126.5 L584.5 127.5 L583.5 128.5 L583.5 129.5 L584.5 129.5 L584.5 130.5 L585.5 130.5 L586.5 130.5 L587.5 130.5 L588.5 129.5 L588.5 129.5 L588.5 128.5 L588.5 127.5 L587.5 126.5M583.5 120.5 L589.5 120.5 L590.5 120.5 L590.5 120.5 L590.5 121.5 L590.5 122.5 L590.5 123.5M584.5 120.5 L584.5 120.5 L583.5 121.5 L583.5 122.5 L584.5 123.5 L584.5 124.5 L585.5 124.5 L586.5 124.5 L587.5 124.5 L588.5 123.5 L588.5 122.5 L588.5 121.5 L588.5 120.5 L587.5 120.5M587.5 117.5 L588.5 117.5 L588.5 117.5 L588.5 116.5 L587.5 117.5M583.5 104.5 L582.5 104.5 L581.5 105.5 L581.5 105.5 L581.5 107.5 L581.5 107.5 L582.5 108.5 L583.5 108.5 L584.5 109.5 L585.5 109.5 L586.5 108.5 L587.5 108.5 L588.5 107.5 L588.5 107.5 L588.5 105.5 L588.5 105.5 L587.5 104.5 L586.5 104.5M581.5 101.5 L588.5 101.5M583.5 95.5 L588.5 95.5M584.5 95.5 L584.5 96.5 L583.5 96.5 L583.5 97.5 L584.5 98.5 L584.5 99.5 L585.5 99.5 L586.5 99.5 L587.5 99.5 L588.5 98.5 L588.5 97.5 L588.5 96.5 L588.5 96.5 L587.5 95.5M584.5 89.5 L584.5 89.5 L583.5 90.5 L583.5 91.5 L584.5 92.5 L584.5 93.5 L585.5 92.5 L585.5 91.5 L586.5 90.5 L586.5 89.5 L587.5 89.5 L587.5 89.5 L588.5 89.5 L588.5 90.5 L588.5 91.5 L588.5 92.5 L587.5 93.5M584.5 83.5 L584.5 83.5 L583.5 84.5 L583.5 85.5 L584.5 86.5 L584.5 87.5 L585.5 86.5 L585.5 86.5 L586.5 84.5 L586.5 83.5 L587.5 83.5 L587.5 83.5 L588.5 83.5 L588.5 84.5 L588.5 85.5 L588.5 86.5 L587.5 87.5" stroke="#0000ff" stroke-width="0.93" fill="none" stroke-linecap="square" shape-rendering="crispEdges"/><path d="M130.5 235.5 L129.5 235.5 L128.5 236.5 L128.5 238.5 L128.5 239.5 L128.5 241.5 L129.5 242.5 L130.5 242.5 L130.5 242.5 L131.5 242.5 L132.5 241.5 L132.5 239.5 L132.5 238.5 L132.5 236.5 L131.5 235.5 L130.5 235.5 L130.5 235.5M139.5 235.5 L136.5 242.5M134.5 235.5 L139.5 235.5M146.5 234.5 L141.5 244.5M150.5 235.5 L149.5 235.5 L148.5 236.5 L148.5 238.5 L148.5 239.5 L148.5 241.5 L149.5 242.5 L150.5 242.5 L151.5 242.5 L152.5 242.5 L152.5 241.5 L153.5 239.5 L153.5 238.5 L152.5 236.5 L152.5 235.5 L151.5 235.5 L150.5 235.5M159.5 235.5 L155.5 235.5 L155.5 238.5 L155.5 238.5 L156.5 237.5 L157.5 237.5 L158.5 238.5 L159.5 238.5 L159.5 239.5 L159.5 240.5 L159.5 241.5 L158.5 242.5 L157.5 242.5 L156.5 242.5 L155.5 242.5 L155.5 241.5 L155.5 241.5" stroke="#000" stroke-width="0.93" fill="none" stroke-linecap="square" shape-rendering="crispEdges"/><path d="M130.5 501.5 L129.5 501.5 L128.5 502.5 L128.5 504.5 L128.5 505.5 L128.5 507.5 L129.5 508.5 L130.5 508.5 L130.5 508.5 L131.5 508.5 L132.5 507.5 L132.5 505.5 L132.5 504.5 L132.5 502.5 L131.5 501.5 L130.5 501.5 L130.5 501.5M139.5 501.5 L136.5 508.5M134.5 501.5 L139.5 501.5M146.5 500.5 L141.5 510.5M150.5 501.5 L149.5 501.5 L148.5 502.5 L148.5 504.5 L148.5 505.5 L148.5 507.5 L149.5 508.5 L150.5 508.5 L151.5 508.5 L152.5 508.5 L152.5 507.5 L153.5 505.5 L153.5 504.5 L152.5 502.5 L152.5 501.5 L151.5 501.5 L150.5 501.5M159.5 501.5 L155.5 501.5 L155.5 504.5 L155.5 504.5 L156.5 503.5 L157.5 503.5 L158.5 504.5 L159.5 504.5 L159.5 505.5 L159.5 506.5 L159.5 507.5 L158.5 508.5 L157.5 508.5 L156.5 508.5 L155.5 508.5 L155.5 507.5 L155.5 507.5" stroke="#000" stroke-width="0.93" fill="none" stroke-linecap="square" shape-rendering="crispEdges"/><path d="M130.5 769.5 L129.5 769.5 L128.5 770.5 L128.5 772.5 L128.5 773.5 L128.5 775.5 L129.5 776.5 L130.5 776.5 L130.5 776.5 L131.5 776.5 L132.5 775.5 L132.5 773.5 L132.5 772.5 L132.5 770.5 L131.5 769.5 L130.5 769.5 L130.5 769.5M139.5 769.5 L136.5 776.5M134.5 769.5 L139.5 769.5M146.5 768.5 L141.5 778.5M150.5 769.5 L149.5 769.5 L148.5 770.5 L148.5 772.5 L148.5 773.5 L148.5 775.5 L149.5 776.5 L150.5 776.5 L151.5 776.5 L152.5 776.5 L152.5 775.5 L153.5 773.5 L153.5 772.5 L152.5 770.5 L152.5 769.5 L151.5 769.5 L150.5 769.5M159.5 769.5 L155.5 769.5 L155.5 772.5 L155.5 772.5 L156.5 771.5 L157.5 771.5 L158.5 772.5 L159.5 772.5 L159.5 773.5 L159.5 774.5 L159.5 775.5 L158.5 776.5 L157.5 776.5 L156.5 776.5 L155.5 776.5 L155.5 775.5 L155.5 775.5" stroke="#000" stroke-width="0.93" fill="none" stroke-linecap="square" shape-rendering="crispEdges"/><path d="M230.5 235.5 L229.5 235.5 L228.5 236.5 L228.5 238.5 L228.5 239.5 L228.5 241.5 L229.5 242.5 L230.5 242.5 L230.5 242.5 L231.5 242.5 L232.5 241.5 L232.5 239.5 L232.5 238.5 L232.5 236.5 L231.5 235.5 L230.5 235.5 L230.5 235.5M239.5 235.5 L236.5 242.5M234.5 235.5 L239.5 235.5M246.5 234.5 L241.5 244.5M250.5 235.5 L249.5 235.5 L248.5 236.5 L248.5 238.5 L248.5 239.5 L248.5 241.5 L249.5 242.5 L250.5 242.5 L251.5 242.5 L252.5 242.5 L252.5 241.5 L253.5 239.5 L253.5 238.5 L252.5 236.5 L252.5 235.5 L251.5 235.5 L250.5 235.5M256.5 235.5 L255.5 235.5 L255.5 236.5 L255.5 237.5 L255.5 237.5 L256.5 238.5 L257.5 238.5 L258.5 238.5 L259.5 239.5 L259.5 240.5 L259.5 241.5 L259.5 241.5 L259.5 242.5 L258.5 242.5 L256.5 242.5 L255.5 242.5 L255.5 241.5 L255.5 241.5 L255.5 240.5 L255.5 239.5 L256.5 238.5 L257.5 238.5 L258.5 238.5 L259.5 237.5 L259.5 237.5 L259.5 236.5 L259.5 235.5 L258.5 235.5 L256.5 235.5" stroke="#000" stroke-width="0.93" fill="none" stroke-linecap="square" shape-rendering="crispEdges"/><path d="M230.5 501.5 L229.5 501.5 L228.5 502.5 L228.5 504.5 L228.5 505.5 L228.5 507.5 L229.5 508.5 L230.5 508.5 L230.5 508.5 L231.5 508.5 L232.5 507.5 L232.5 505.5 L232.5 504.5 L232.5 502.5 L231.5 501.5 L230.5 501.5 L230.5 501.5M239.5 501.5 L236.5 508.5M234.5 501.5 L239.5 501.5M246.5 500.5 L241.5 510.5M250.5 501.5 L249.5 501.5 L248.5 502.5 L248.5 504.5 L248.5 505.5 L248.5 507.5 L249.5 508.5 L250.5 508.5 L251.5 508.5 L252.5 508.5 L252.5 507.5 L253.5 505.5 L253.5 504.5 L252.5 502.5 L252.5 501.5 L251.5 501.5 L250.5 501.5M256.5 501.5 L255.5 501.5 L255.5 502.5 L255.5 503.5 L255.5 503.5 L256.5 504.5 L257.5 504.5 L258.5 504.5 L259.5 505.5 L259.5 506.5 L259.5 507.5 L259.5 507.5 L259.5 508.5 L258.5 508.5 L256.5 508.5 L255.5 508.5 L255.5 507.5 L255.5 507.5 L255.5 506.5 L255.5 505.5 L256.5 504.5 L257.5 504.5 L258.5 504.5 L259.5 503.5 L259.5 503.5 L259.5 502.5 L259.5 501.5 L258.5 501.5 L256.5 501.5" stroke="#000" stroke-width="0.93" fill="none" stroke-linecap="square" shape-rendering="crispEdges"/><path d="M230.5 769.5 L229.5 769.5 L228.5 770.5 L228.5 772.5 L228.5 773.5 L228.5 775.5 L229.5 776.5 L230.5 776.5 L230.5 776.5 L231.5 776.5 L232.5 775.5 L232.5 773.5 L232.5 772.5 L232.5 770.5 L231.5 769.5 L230.5 769.5 L230.5 769.5M239.5 769.5 L236.5 776.5M234.5 769.5 L239.5 769.5M246.5 768.5 L241.5 778.5M250.5 769.5 L249.5 769.5 L248.5 770.5 L248.5 772.5 L248.5 773.5 L248.5 775.5 L249.5 776.5 L250.5 776.5 L251.5 776.5 L252.5 776.5 L252.5 775.5 L253.5 773.5 L253.5 772.5 L252.5 770.5 L252.5 769.5 L251.5 769.5 L250.5 769.5M256.5 769.5 L255.5 769.5 L255.5 770.5 L255.5 771.5 L255.5 771.5 L256.5 772.5 L257.5 772.5 L258.5 772.5 L259.5 773.5 L259.5 774.5 L259.5 775.5 L259.5 775.5 L259.5 776.5 L258.5 776.5 L256.5 776.5 L255.5 776.5 L255.5 775.5 L255.5 775.5 L255.5 774.5 L255.5 773.5 L256.5 772.5 L257.5 772.5 L258.5 772.5 L259.5 771.5 L259.5 771.5 L259.5 770.5 L259.5 769.5 L258.5 769.5 L256.5 769.5" stroke="#000" stroke-width="0.93" fill="none" stroke-linecap="square" shape-rendering="crispEdges"/><path d="M331.5 235.5 L330.5 235.5 L329.5 236.5 L329.5 238.5 L329.5 239.5 L329.5 241.5 L330.5 242.5 L331.5 242.5 L331.5 242.5 L332.5 242.5 L333.5 241.5 L333.5 239.5 L333.5 238.5 L333.5 236.5 L332.5 235.5 L331.5 235.5 L331.5 235.5M340.5 235.5 L337.5 242.5M335.5 235.5 L340.5 235.5M347.5 234.5 L342.5 244.5M350.5 236.5 L351.5 236.5 L352.5 235.5 L352.5 242.5M357.5 236.5 L357.5 236.5 L358.5 235.5 L358.5 242.5" stroke="#000" stroke-width="0.93" fill="none" stroke-linecap="square" shape-rendering="crispEdges"/><path d="M331.5 501.5 L330.5 501.5 L329.5 502.5 L329.5 504.5 L329.5 505.5 L329.5 507.5 L330.5 508.5 L331.5 508.5 L331.5 508.5 L332.5 508.5 L333.5 507.5 L333.5 505.5 L333.5 504.5 L333.5 502.5 L332.5 501.5 L331.5 501.5 L331.5 501.5M340.5 501.5 L337.5 508.5M335.5 501.5 L340.5 501.5M347.5 500.5 L342.5 510.5M350.5 502.5 L351.5 502.5 L352.5 501.5 L352.5 508.5M357.5 502.5 L357.5 502.5 L358.5 501.5 L358.5 508.5" stroke="#000" stroke-width="0.93" fill="none" stroke-linecap="square" shape-rendering="crispEdges"/><path d="M331.5 769.5 L330.5 769.5 L329.5 770.5 L329.5 772.5 L329.5 773.5 L329.5 775.5 L330.5 776.5 L331.5 776.5 L331.5 776.5 L332.5 776.5 L333.5 775.5 L333.5 773.5 L333.5 772.5 L333.5 770.5 L332.5 769.5 L331.5 769.5 L331.5 769.5M340.5 769.5 L337.5 776.5M335.5 769.5 L340.5 769.5M347.5 768.5 L342.5 778.5M350.5 770.5 L351.5 770.5 L352.5 769.5 L352.5 776.5M357.5 770.5 L357.5 770.5 L358.5 769.5 L358.5 776.5" stroke="#000" stroke-width="0.93" fill="none" stroke-linecap="square" shape-rendering="crispEdges"/><path d="M429.5 235.5 L428.5 235.5 L428.5 236.5 L427.5 238.5 L427.5 239.5 L428.5 241.5 L428.5 242.5 L429.5 242.5 L430.5 242.5 L431.5 242.5 L432.5 241.5 L432.5 239.5 L432.5 238.5 L432.5 236.5 L431.5 235.5 L430.5 235.5 L429.5 235.5M439.5 235.5 L435.5 242.5M434.5 235.5 L439.5 235.5M446.5 234.5 L440.5 244.5M449.5 236.5 L450.5 236.5 L451.5 235.5 L451.5 242.5M458.5 235.5 L455.5 240.5 L460.5 240.5M458.5 235.5 L458.5 242.5" stroke="#000" stroke-width="0.93" fill="none" stroke-linecap="square" shape-rendering="crispEdges"/><path d="M429.5 501.5 L428.5 501.5 L428.5 502.5 L427.5 504.5 L427.5 505.5 L428.5 507.5 L428.5 508.5 L429.5 508.5 L430.5 508.5 L431.5 508.5 L432.5 507.5 L432.5 505.5 L432.5 504.5 L432.5 502.5 L431.5 501.5 L430.5 501.5 L429.5 501.5M439.5 501.5 L435.5 508.5M434.5 501.5 L439.5 501.5M446.5 500.5 L440.5 510.5M449.5 502.5 L450.5 502.5 L451.5 501.5 L451.5 508.5M458.5 501.5 L455.5 506.5 L460.5 506.5M458.5 501.5 L458.5 508.5" stroke="#000" stroke-width="0.93" fill="none" stroke-linecap="square" shape-rendering="crispEdges"/><path d="M429.5 769.5 L428.5 769.5 L428.5 770.5 L427.5 772.5 L427.5 773.5 L428.5 775.5 L428.5 776.5 L429.5 776.5 L430.5 776.5 L431.5 776.5 L432.5 775.5 L432.5 773.5 L432.5 772.5 L432.5 770.5 L431.5 769.5 L430.5 769.5 L429.5 769.5M439.5 769.5 L435.5 776.5M434.5 769.5 L439.5 769.5M446.5 768.5 L440.5 778.5M449.5 770.5 L450.5 770.5 L451.5 769.5 L451.5 776.5M458.5 769.5 L455.5 774.5 L460.5 774.5M458.5 769.5 L458.5 776.5" stroke="#000" stroke-width="0.93" fill="none" stroke-linecap="square" shape-rendering="crispEdges"/><path d="M530.5 235.5 L529.5 235.5 L528.5 236.5 L528.5 238.5 L528.5 239.5 L528.5 241.5 L529.5 242.5 L530.5 242.5 L530.5 242.5 L531.5 242.5 L532.5 241.5 L532.5 239.5 L532.5 238.5 L532.5 236.5 L531.5 235.5 L530.5 235.5 L530.5 235.5M539.5 235.5 L536.5 242.5M534.5 235.5 L539.5 235.5M546.5 234.5 L541.5 244.5M549.5 236.5 L550.5 236.5 L551.5 235.5 L551.5 242.5M559.5 235.5 L556.5 242.5M555.5 235.5 L559.5 235.5" stroke="#000" stroke-width="0.93" fill="none" stroke-linecap="square" shape-rendering="crispEdges"/><path d="M530.5 501.5 L529.5 501.5 L528.5 502.5 L528.5 504.5 L528.5 505.5 L528.5 507.5 L529.5 508.5 L530.5 508.5 L530.5 508.5 L531.5 508.5 L532.5 507.5 L532.5 505.5 L532.5 504.5 L532.5 502.5 L531.5 501.5 L530.5 501.5 L530.5 501.5M539.5 501.5 L536.5 508.5M534.5 501.5 L539.5 501.5M546.5 500.5 L541.5 510.5M549.5 502.5 L550.5 502.5 L551.5 501.5 L551.5 508.5M559.5 501.5 L556.5 508.5M555.5 501.5 L559.5 501.5" stroke="#000" stroke-width="0.93" fill="none" stroke-linecap="square" shape-rendering="crispEdges"/><path d="M530.5 769.5 L529.5 769.5 L528.5 770.5 L528.5 772.5 L528.5 773.5 L528.5 775.5 L529.5 776.5 L530.5 776.5 L530.5 776.5 L531.5 776.5 L532.5 775.5 L532.5 773.5 L532.5 772.5 L532.5 770.5 L531.5 769.5 L530.5 769.5 L530.5 769.5M539.5 769.5 L536.5 776.5M534.5 769.5 L539.5 769.5M546.5 768.5 L541.5 778.5M549.5 770.5 L550.5 770.5 L551.5 769.5 L551.5 776.5M559.5 769.5 L556.5 776.5M555.5 769.5 L559.5 769.5" stroke="#000" stroke-width="0.93" fill="none" stroke-linecap="square" shape-rendering="crispEdges"/><path d="M208.5 249.5 L208.5 248.5 L206.5 248.5 L205.5 248.5 L204.5 248.5 L203.5 249.5 L203.5 250.5 L203.5 251.5 L204.5 251.5 L205.5 251.5 L207.5 252.5 L208.5 253.5 L208.5 253.5 L208.5 254.5 L208.5 255.5 L208.5 256.5 L206.5 256.5 L205.5 256.5 L204.5 256.5 L203.5 255.5M211.5 248.5 L211.5 254.5 L212.5 256.5 L212.5 256.5 L213.5 256.5M210.5 251.5 L213.5 251.5M220.5 251.5 L220.5 256.5M220.5 252.5 L219.5 251.5 L218.5 251.5 L217.5 251.5 L216.5 251.5 L216.5 252.5 L215.5 253.5 L215.5 254.5 L216.5 255.5 L216.5 256.5 L217.5 256.5 L218.5 256.5 L219.5 256.5 L220.5 255.5M223.5 251.5 L223.5 256.5M223.5 253.5 L223.5 252.5 L224.5 251.5 L225.5 251.5 L226.5 251.5M228.5 248.5 L228.5 254.5 L228.5 256.5 L229.5 256.5 L230.5 256.5M227.5 251.5 L230.5 251.5M240.5 248.5 L240.5 256.5M237.5 248.5 L243.5 248.5M244.5 248.5 L244.5 248.5 L245.5 248.5 L244.5 248.5 L244.5 248.5M244.5 251.5 L244.5 256.5M247.5 251.5 L247.5 256.5M247.5 252.5 L249.5 251.5 L249.5 251.5 L250.5 251.5 L251.5 251.5 L252.5 252.5 L252.5 256.5M252.5 252.5 L253.5 251.5 L254.5 251.5 L255.5 251.5 L255.5 251.5 L256.5 252.5 L256.5 256.5M258.5 253.5 L263.5 253.5 L263.5 252.5 L263.5 251.5 L262.5 251.5 L262.5 251.5 L260.5 251.5 L260.5 251.5 L259.5 252.5 L258.5 253.5 L258.5 254.5 L259.5 255.5 L260.5 256.5 L260.5 256.5 L262.5 256.5 L262.5 256.5 L263.5 255.5M266 251.5 L267 251.5M266.5 255.5 L266.5 256.5 L266.5 256.5 L266.5 256.5 L266.5 255.5M278.5 246.5 L277.5 247.5 L277.5 248.5 L276.5 250.5 L276.5 252.5 L276.5 253.5 L276.5 255.5 L277.5 257.5 L277.5 258.5 L278.5 259.5M281.5 250.5 L281.5 250.5 L281.5 249.5 L282.5 248.5 L282.5 248.5 L284.5 248.5 L285.5 248.5 L285.5 249.5 L285.5 250.5 L285.5 250.5 L285.5 251.5 L284.5 252.5 L281.5 256.5 L286.5 256.5M290.5 248.5 L289.5 248.5 L288.5 250.5 L288.5 251.5 L288.5 253.5 L288.5 254.5 L289.5 256.5 L290.5 256.5 L291.5 256.5 L292.5 256.5 L293.5 254.5 L293.5 253.5 L293.5 251.5 L293.5 250.5 L292.5 248.5 L291.5 248.5 L290.5 248.5M297.5 250.5 L298.5 249.5 L299.5 248.5 L299.5 256.5M307.5 248.5 L303.5 253.5 L309.5 253.5M307.5 248.5 L307.5 256.5M317.5 246.5 L311.5 259.5M322.5 248.5 L320.5 248.5 L320.5 250.5 L319.5 251.5 L319.5 253.5 L320.5 254.5 L320.5 256.5 L322.5 256.5 L322.5 256.5 L323.5 256.5 L324.5 254.5 L325.5 253.5 L325.5 251.5 L324.5 250.5 L323.5 248.5 L322.5 248.5 L322.5 248.5M332.5 248.5 L328.5 256.5M327.5 248.5 L332.5 248.5M341.5 246.5 L334.5 259.5M345.5 248.5 L344.5 248.5 L343.5 250.5 L343.5 251.5 L343.5 253.5 L343.5 254.5 L344.5 256.5 L345.5 256.5 L346.5 256.5 L347.5 256.5 L348.5 254.5 L348.5 253.5 L348.5 251.5 L348.5 250.5 L347.5 248.5 L346.5 248.5 L345.5 248.5M351.5 250.5 L351.5 250.5 L351.5 249.5 L352.5 248.5 L352.5 248.5 L354.5 248.5 L355.5 248.5 L355.5 249.5 L355.5 250.5 L355.5 250.5 L355.5 251.5 L354.5 252.5 L350.5 256.5 L356.5 256.5M366.5 248.5 L365.5 248.5 L364.5 250.5 L364.5 251.5 L364.5 253.5 L364.5 254.5 L365.5 256.5 L366.5 256.5 L367.5 256.5 L368.5 256.5 L369.5 254.5 L369.5 253.5 L369.5 251.5 L369.5 250.5 L368.5 248.5 L367.5 248.5 L366.5 248.5M376.5 248.5 L372.5 248.5 L372.5 251.5 L372.5 251.5 L374.5 251.5 L375.5 251.5 L376.5 251.5 L377.5 252.5 L377.5 253.5 L377.5 254.5 L377.5 255.5 L376.5 256.5 L375.5 256.5 L374.5 256.5 L372.5 256.5 L372.5 255.5 L372.5 254.5M380 251.5 L381 251.5M380.5 255.5 L380.5 256.5 L380.5 256.5 L380.5 256.5 L380.5 255.5M387.5 248.5 L383.5 253.5 L389.5 253.5M387.5 248.5 L387.5 256.5M395.5 248.5 L391.5 248.5 L391.5 251.5 L391.5 251.5 L393.5 251.5 L394.5 251.5 L395.5 251.5 L396.5 252.5 L396.5 253.5 L396.5 254.5 L396.5 255.5 L395.5 256.5 L394.5 256.5 L393.5 256.5 L391.5 256.5 L391.5 255.5 L391.5 254.5M398.5 246.5 L399.5 247.5 L400.5 248.5 L401.5 250.5 L401.5 252.5 L401.5 253.5 L401.5 255.5 L400.5 257.5 L399.5 258.5 L398.5 259.5" stroke="#000" stroke-width="0.93" fill="none" stroke-linecap="square" shape-rendering="crispEdges"/><path d="M208.5 516.5 L208.5 515.5 L206.5 515.5 L205.5 515.5 L204.5 515.5 L203.5 516.5 L203.5 517.5 L203.5 518.5 L204.5 518.5 L205.5 518.5 L207.5 519.5 L208.5 520.5 L208.5 520.5 L208.5 521.5 L208.5 522.5 L208.5 523.5 L206.5 523.5 L205.5 523.5 L204.5 523.5 L203.5 522.5M211.5 515.5 L211.5 521.5 L212.5 523.5 L212.5 523.5 L213.5 523.5M210.5 518.5 L213.5 518.5M220.5 518.5 L220.5 523.5M220.5 519.5 L219.5 518.5 L218.5 518.5 L217.5 518.5 L216.5 518.5 L216.5 519.5 L215.5 520.5 L215.5 521.5 L216.5 522.5 L216.5 523.5 L217.5 523.5 L218.5 523.5 L219.5 523.5 L220.5 522.5M223.5 518.5 L223.5 523.5M223.5 520.5 L223.5 519.5 L224.5 518.5 L225.5 518.5 L226.5 518.5M228.5 515.5 L228.5 521.5 L228.5 523.5 L229.5 523.5 L230.5 523.5M227.5 518.5 L230.5 518.5M240.5 515.5 L240.5 523.5M237.5 515.5 L243.5 515.5M244.5 515.5 L244.5 515.5 L245.5 515.5 L244.5 515.5 L244.5 515.5M244.5 518.5 L244.5 523.5M247.5 518.5 L247.5 523.5M247.5 519.5 L249.5 518.5 L249.5 518.5 L250.5 518.5 L251.5 518.5 L252.5 519.5 L252.5 523.5M252.5 519.5 L253.5 518.5 L254.5 518.5 L255.5 518.5 L255.5 518.5 L256.5 519.5 L256.5 523.5M258.5 520.5 L263.5 520.5 L263.5 519.5 L263.5 518.5 L262.5 518.5 L262.5 518.5 L260.5 518.5 L260.5 518.5 L259.5 519.5 L258.5 520.5 L258.5 521.5 L259.5 522.5 L260.5 523.5 L260.5 523.5 L262.5 523.5 L262.5 523.5 L263.5 522.5M266 518.5 L267 518.5M266.5 522.5 L266.5 523.5 L266.5 523.5 L266.5 523.5 L266.5 522.5M278.5 514.5 L277.5 514.5 L277.5 515.5 L276.5 517.5 L276.5 519.5 L276.5 520.5 L276.5 522.5 L277.5 524.5 L277.5 525.5 L278.5 526.5M281.5 517.5 L281.5 517.5 L281.5 516.5 L282.5 515.5 L282.5 515.5 L284.5 515.5 L285.5 515.5 L285.5 516.5 L285.5 517.5 L285.5 517.5 L285.5 518.5 L284.5 519.5 L281.5 523.5 L286.5 523.5M290.5 515.5 L289.5 515.5 L288.5 517.5 L288.5 518.5 L288.5 520.5 L288.5 521.5 L289.5 523.5 L290.5 523.5 L291.5 523.5 L292.5 523.5 L293.5 521.5 L293.5 520.5 L293.5 518.5 L293.5 517.5 L292.5 515.5 L291.5 515.5 L290.5 515.5M297.5 517.5 L298.5 516.5 L299.5 515.5 L299.5 523.5M307.5 515.5 L303.5 520.5 L309.5 520.5M307.5 515.5 L307.5 523.5M317.5 514.5 L311.5 526.5M322.5 515.5 L320.5 515.5 L320.5 517.5 L319.5 518.5 L319.5 520.5 L320.5 521.5 L320.5 523.5 L322.5 523.5 L322.5 523.5 L323.5 523.5 L324.5 521.5 L325.5 520.5 L325.5 518.5 L324.5 517.5 L323.5 515.5 L322.5 515.5 L322.5 515.5M332.5 515.5 L328.5 523.5M327.5 515.5 L332.5 515.5M341.5 514.5 L334.5 526.5M345.5 515.5 L344.5 515.5 L343.5 517.5 L343.5 518.5 L343.5 520.5 L343.5 521.5 L344.5 523.5 L345.5 523.5 L346.5 523.5 L347.5 523.5 L348.5 521.5 L348.5 520.5 L348.5 518.5 L348.5 517.5 L347.5 515.5 L346.5 515.5 L345.5 515.5M351.5 517.5 L351.5 517.5 L351.5 516.5 L352.5 515.5 L352.5 515.5 L354.5 515.5 L355.5 515.5 L355.5 516.5 L355.5 517.5 L355.5 517.5 L355.5 518.5 L354.5 519.5 L350.5 523.5 L356.5 523.5M366.5 515.5 L365.5 515.5 L364.5 517.5 L364.5 518.5 L364.5 520.5 L364.5 521.5 L365.5 523.5 L366.5 523.5 L367.5 523.5 L368.5 523.5 L369.5 521.5 L369.5 520.5 L369.5 518.5 L369.5 517.5 L368.5 515.5 L367.5 515.5 L366.5 515.5M376.5 515.5 L372.5 515.5 L372.5 518.5 L372.5 518.5 L374.5 518.5 L375.5 518.5 L376.5 518.5 L377.5 519.5 L377.5 520.5 L377.5 521.5 L377.5 522.5 L376.5 523.5 L375.5 523.5 L374.5 523.5 L372.5 523.5 L372.5 522.5 L372.5 521.5M380 518.5 L381 518.5M380.5 522.5 L380.5 523.5 L380.5 523.5 L380.5 523.5 L380.5 522.5M387.5 515.5 L383.5 520.5 L389.5 520.5M387.5 515.5 L387.5 523.5M395.5 515.5 L391.5 515.5 L391.5 518.5 L391.5 518.5 L393.5 518.5 L394.5 518.5 L395.5 518.5 L396.5 519.5 L396.5 520.5 L396.5 521.5 L396.5 522.5 L395.5 523.5 L394.5 523.5 L393.5 523.5 L391.5 523.5 L391.5 522.5 L391.5 521.5M398.5 514.5 L399.5 514.5 L400.5 515.5 L401.5 517.5 L401.5 519.5 L401.5 520.5 L401.5 522.5 L400.5 524.5 L399.5 525.5 L398.5 526.5" stroke="#000" stroke-width="0.93" fill="none" stroke-linecap="square" shape-rendering="crispEdges"/><path d="M29.5 287.5 L34.5 294.5M34.5 287.5 L29.5 294.5M37.5 288.5 L38.5 288.5 L39.5 287.5 L39.5 294.5M46.5 287.5 L44.5 287.5 L44.5 288.5 L43.5 290.5 L43.5 291.5 L44.5 293.5 L44.5 294.5 L46.5 294.5 L46.5 294.5 L47.5 294.5 L48.5 293.5 L48.5 291.5 L48.5 290.5 L48.5 288.5 L47.5 287.5 L46.5 287.5 L46.5 287.5" stroke="#000" stroke-width="0.93" fill="none" stroke-linecap="square" shape-rendering="crispEdges"/><path d="M29.5 554.5 L34.5 561.5M34.5 554.5 L29.5 561.5M37.5 555.5 L38.5 555.5 L39.5 554.5 L39.5 561.5M46.5 554.5 L44.5 554.5 L44.5 555.5 L43.5 557.5 L43.5 558.5 L44.5 560.5 L44.5 561.5 L46.5 561.5 L46.5 561.5 L47.5 561.5 L48.5 560.5 L48.5 558.5 L48.5 557.5 L48.5 555.5 L47.5 554.5 L46.5 554.5 L46.5 554.5" stroke="#000" stroke-width="0.93" fill="none" stroke-linecap="square" shape-rendering="crispEdges"/><path d="M43.5 338.5 L48.5 345.5M48.5 338.5 L43.5 345.5" stroke="#000" stroke-width="0.93" fill="none" stroke-linecap="square" shape-rendering="crispEdges"/><path d="M43.5 605.5 L48.5 612.5M48.5 605.5 L43.5 612.5" stroke="#000" stroke-width="0.93" fill="none" stroke-linecap="square" shape-rendering="crispEdges"/><path d="M41.5 389.5 L41.5 396.5M41.5 389.5 L44.5 396.5M47.5 389.5 L44.5 396.5M47.5 389.5 L47.5 396.5" stroke="#000" stroke-width="0.93" fill="none" stroke-linecap="square" shape-rendering="crispEdges"/><path d="M41.5 656.5 L41.5 663.5M41.5 656.5 L44.5 663.5M47.5 656.5 L44.5 663.5M47.5 656.5 L47.5 663.5" stroke="#000" stroke-width="0.93" fill="none" stroke-linecap="square" shape-rendering="crispEdges"/><path d="M48.5 442.5 L48.5 441.5 L47.5 440.5 L46.5 440.5 L45.5 440.5 L44.5 440.5 L43.5 441.5 L43.5 442.5 L43.5 443.5 L43.5 444.5 L43.5 445.5 L43.5 446.5 L44.5 447.5 L45.5 447.5 L46.5 447.5 L47.5 447.5 L48.5 446.5 L48.5 445.5" stroke="#000" stroke-width="0.93" fill="none" stroke-linecap="square" shape-rendering="crispEdges"/><path d="M48.5 709.5 L48.5 708.5 L47.5 707.5 L46.5 707.5 L45.5 707.5 L44.5 707.5 L43.5 708.5 L43.5 709.5 L43.5 710.5 L43.5 711.5 L43.5 712.5 L43.5 713.5 L44.5 714.5 L45.5 714.5 L46.5 714.5 L47.5 714.5 L48.5 713.5 L48.5 712.5" stroke="#000" stroke-width="0.93" fill="none" stroke-linecap="square" shape-rendering="crispEdges"/><path d="M43.5 487.5 L43.5 494.5M43.5 487.5 L46.5 487.5 L47.5 487.5 L48.5 488.5 L48.5 488.5 L48.5 489.5 L48.5 490.5 L47.5 490.5 L46.5 490.5M43.5 490.5 L46.5 490.5 L47.5 491.5 L48.5 491.5 L48.5 492.5 L48.5 493.5 L48.5 493.5 L47.5 494.5 L46.5 494.5 L43.5 494.5" stroke="#000" stroke-width="0.93" fill="none" stroke-linecap="square" shape-rendering="crispEdges"/><path d="M43.5 754.5 L43.5 761.5M43.5 754.5 L46.5 754.5 L47.5 754.5 L48.5 755.5 L48.5 755.5 L48.5 756.5 L48.5 757.5 L47.5 757.5 L46.5 757.5M43.5 757.5 L46.5 757.5 L47.5 758.5 L48.5 758.5 L48.5 759.5 L48.5 760.5 L48.5 760.5 L47.5 761.5 L46.5 761.5 L43.5 761.5" stroke="#000" stroke-width="0.93" fill="none" stroke-linecap="square" shape-rendering="crispEdges"/><path d="M11.5 427.5 L18.5 427.5M11.5 427.5 L11.5 423.5M14.5 427.5 L14.5 424.5M11.5 421.5 L18.5 421.5M13.5 414.5 L18.5 414.5M14.5 414.5 L14.5 415.5 L13.5 416.5 L13.5 417.5 L14.5 418.5 L14.5 418.5 L15.5 419.5 L16.5 419.5 L17.5 418.5 L18.5 418.5 L18.5 417.5 L18.5 416.5 L18.5 415.5 L17.5 414.5M13.5 412.5 L18.5 412.5M15.5 412.5 L14.5 411.5 L14.5 411.5 L13.5 410.5 L13.5 409.5M15.5 408.5 L15.5 404.5 L15.5 404.5 L14.5 404.5 L14.5 404.5 L13.5 405.5 L13.5 406.5 L14.5 407.5 L14.5 407.5 L15.5 408.5 L16.5 408.5 L17.5 407.5 L18.5 407.5 L18.5 406.5 L18.5 405.5 L18.5 404.5 L17.5 404.5M11.5 396.5 L18.5 391.5M11.5 391.5 L18.5 396.5M15.5 389.5 L15.5 383.5M13.5 380.5 L18.5 380.5M15.5 380.5 L14.5 380.5 L14.5 379.5 L13.5 379.5 L13.5 378.5M13.5 372.5 L18.5 372.5M14.5 372.5 L14.5 373.5 L13.5 373.5 L13.5 374.5 L14.5 375.5 L14.5 376.5 L15.5 376.5 L16.5 376.5 L17.5 376.5 L18.5 375.5 L18.5 374.5 L18.5 373.5 L18.5 373.5 L17.5 372.5M13.5 370.5 L18.5 368.5M13.5 366.5 L18.5 368.5 L19.5 369.5 L20.5 369.5 L20.5 370.5 L20.5 370.5M13.5 354.5 L12.5 354.5 L11.5 355.5 L11.5 355.5 L11.5 357.5 L11.5 358.5 L12.5 358.5 L13.5 359.5 L14.5 359.5 L15.5 359.5 L16.5 359.5 L17.5 358.5 L18.5 358.5 L18.5 357.5 L18.5 355.5 L18.5 355.5 L17.5 354.5 L16.5 354.5M11.5 351.5 L18.5 351.5M13.5 345.5 L18.5 345.5M14.5 345.5 L14.5 346.5 L13.5 346.5 L13.5 347.5 L14.5 348.5 L14.5 349.5 L15.5 349.5 L16.5 349.5 L17.5 349.5 L18.5 348.5 L18.5 347.5 L18.5 346.5 L18.5 346.5 L17.5 345.5M14.5 339.5 L14.5 339.5 L13.5 340.5 L13.5 341.5 L14.5 342.5 L14.5 343.5 L15.5 342.5 L15.5 342.5 L16.5 340.5 L16.5 339.5 L17.5 339.5 L17.5 339.5 L18.5 339.5 L18.5 340.5 L18.5 341.5 L18.5 342.5 L17.5 343.5M14.5 333.5 L14.5 333.5 L13.5 334.5 L13.5 335.5 L14.5 336.5 L14.5 337.5 L15.5 336.5 L15.5 336.5 L16.5 334.5 L16.5 333.5 L17.5 333.5 L17.5 333.5 L18.5 333.5 L18.5 334.5 L18.5 335.5 L18.5 336.5 L17.5 337.5" stroke="#000" stroke-width="0.93" fill="none" stroke-linecap="square" shape-rendering="crispEdges"/><path d="M567.5 448.5 L575.5 448.5M567.5 448.5 L567.5 443.5M571.5 448.5 L571.5 445.5M567.5 441.5 L575.5 441.5M570.5 433.5 L575.5 433.5M571.5 433.5 L570.5 434.5 L570.5 435.5 L570.5 436.5 L570.5 437.5 L571.5 437.5 L572.5 438.5 L573.5 438.5 L574.5 437.5 L575.5 437.5 L575.5 436.5 L575.5 435.5 L575.5 434.5 L574.5 433.5M570.5 430.5 L575.5 430.5M572.5 430.5 L571.5 429.5 L570.5 429.5 L570.5 428.5 L570.5 427.5M572.5 425.5 L572.5 420.5 L571.5 420.5 L570.5 421.5 L570.5 421.5 L570.5 422.5 L570.5 423.5 L570.5 424.5 L571.5 425.5 L572.5 425.5 L573.5 425.5 L574.5 425.5 L575.5 424.5 L575.5 423.5 L575.5 422.5 L575.5 421.5 L574.5 420.5M571.5 413.5 L570.5 414.5 L570.5 415.5 L570.5 416.5 L570.5 417.5 L571.5 418.5 L572.5 417.5 L572.5 416.5 L572.5 414.5 L573.5 414.5 L573.5 413.5 L574.5 413.5 L575.5 414.5 L575.5 415.5 L575.5 416.5 L575.5 417.5 L574.5 418.5M570.5 402.5 L570.5 403.5 L571.5 404.5 L572.5 404.5 L573.5 404.5 L574.5 404.5 L575.5 403.5 L575.5 402.5 L575.5 401.5 L575.5 400.5 L574.5 400.5 L573.5 399.5 L572.5 399.5 L571.5 400.5 L570.5 400.5 L570.5 401.5 L570.5 402.5M567.5 396.5 L575.5 396.5M571.5 396.5 L570.5 395.5 L570.5 395.5 L570.5 393.5 L570.5 393.5 L571.5 392.5 L572.5 391.5 L573.5 391.5 L574.5 392.5 L575.5 393.5 L575.5 393.5 L575.5 395.5 L575.5 395.5 L574.5 396.5M571.5 385.5 L570.5 385.5 L570.5 386.5 L570.5 387.5 L570.5 389.5 L571.5 389.5 L572.5 389.5 L572.5 388.5 L572.5 386.5 L573.5 385.5 L573.5 385.5 L574.5 385.5 L575.5 385.5 L575.5 386.5 L575.5 387.5 L575.5 389.5 L574.5 389.5M572.5 382.5 L572.5 377.5 L571.5 377.5 L570.5 378.5 L570.5 378.5 L570.5 379.5 L570.5 380.5 L570.5 381.5 L571.5 382.5 L572.5 382.5 L573.5 382.5 L574.5 382.5 L575.5 381.5 L575.5 380.5 L575.5 379.5 L575.5 378.5 L574.5 377.5M570.5 374.5 L575.5 374.5M572.5 374.5 L571.5 374.5 L570.5 373.5 L570.5 372.5 L570.5 371.5M570.5 370.5 L575.5 368.5M570.5 365.5 L575.5 368.5M572.5 363.5 L572.5 358.5 L571.5 358.5 L570.5 359.5 L570.5 359.5 L570.5 360.5 L570.5 361.5 L570.5 362.5 L571.5 363.5 L572.5 363.5 L573.5 363.5 L574.5 363.5 L575.5 362.5 L575.5 361.5 L575.5 360.5 L575.5 359.5 L574.5 358.5M567.5 351.5 L575.5 351.5M571.5 351.5 L570.5 352.5 L570.5 353.5 L570.5 354.5 L570.5 355.5 L571.5 355.5 L572.5 356.5 L573.5 356.5 L574.5 355.5 L575.5 355.5 L575.5 354.5 L575.5 353.5 L575.5 352.5 L574.5 351.5M567.5 342.5 L567.5 341.5 L567.5 341.5 L567.5 341.5 L567.5 342.5M570.5 341.5 L575.5 341.5M570.5 338.5 L575.5 338.5M571.5 338.5 L570.5 337.5 L570.5 336.5 L570.5 335.5 L570.5 334.5 L571.5 334.5 L575.5 334.5M567.5 322.5 L575.5 325.5M567.5 322.5 L575.5 319.5M572.5 324.5 L572.5 320.5M567.5 317.5 L575.5 317.5M567.5 317.5 L567.5 313.5 L567.5 312.5 L568.5 311.5 L569.5 311.5 L569.5 311.5 L570.5 311.5 L570.5 312.5 L571.5 313.5 L571.5 317.5M571.5 314.5 L575.5 311.5" stroke="#000" stroke-width="0.93" fill="none" stroke-linecap="square" shape-rendering="crispEdges"/><path d="M566.5 281.5 L566.5 280.5 L565.5 279.5 L564.5 279.5 L563.5 279.5 L562.5 279.5 L562.5 280.5 L561.5 281.5 L561.5 282.5 L561.5 283.5 L561.5 284.5 L562.5 285.5 L562.5 286.5 L563.5 286.5 L564.5 286.5 L565.5 286.5 L566.5 285.5 L566.5 284.5M568.5 279.5 L568.5 286.5M568.5 279.5 L571.5 286.5M574.5 279.5 L571.5 286.5M574.5 279.5 L574.5 286.5M576.5 279.5 L576.5 286.5M576.5 279.5 L581.5 279.5M576.5 282.5 L579.5 282.5M576.5 286.5 L581.5 286.5M586.5 282.5 L586.5 282.5 L585.5 281.5 L584.5 281.5 L583.5 282.5 L582.5 282.5 L583.5 283.5 L583.5 283.5 L585.5 284.5 L586.5 284.5 L586.5 285.5 L586.5 285.5 L586.5 286.5 L585.5 286.5 L584.5 286.5 L583.5 286.5 L582.5 285.5" stroke="#ff0000" stroke-width="0.93" fill="none" stroke-linecap="square" shape-rendering="crispEdges"/><path d="M13.5 690.5 L12.5 690.5 L11.5 691.5 L11.5 692.5 L11.5 693.5 L11.5 694.5 L12.5 694.5 L13.5 695.5 L14.5 695.5 L15.5 695.5 L16.5 695.5 L17.5 694.5 L18.5 694.5 L18.5 693.5 L18.5 692.5 L18.5 691.5 L17.5 690.5 L16.5 690.5 L15.5 690.5M15.5 692.5 L15.5 690.5M11.5 686.5 L11.5 687.5 L12.5 687.5 L13.5 688.5 L14.5 688.5 L15.5 688.5 L16.5 688.5 L17.5 687.5 L18.5 687.5 L18.5 686.5 L18.5 685.5 L18.5 684.5 L17.5 683.5 L16.5 683.5 L15.5 682.5 L14.5 682.5 L13.5 683.5 L12.5 683.5 L11.5 684.5 L11.5 685.5 L11.5 686.5M11.5 680.5 L18.5 680.5M11.5 680.5 L11.5 676.5M14.5 680.5 L14.5 677.5M18.5 680.5 L18.5 676.5M12.5 669.5 L11.5 670.5 L11.5 671.5 L11.5 672.5 L11.5 673.5 L12.5 674.5 L13.5 674.5 L13.5 674.5 L14.5 673.5 L14.5 673.5 L15.5 671.5 L15.5 670.5 L15.5 670.5 L16.5 669.5 L17.5 669.5 L18.5 670.5 L18.5 671.5 L18.5 672.5 L18.5 673.5 L17.5 674.5M11.5 662.5 L18.5 657.5M11.5 657.5 L18.5 662.5M15.5 655.5 L15.5 649.5M13.5 646.5 L18.5 646.5M15.5 646.5 L14.5 646.5 L14.5 645.5 L13.5 644.5 L13.5 643.5M13.5 638.5 L18.5 638.5M14.5 638.5 L14.5 639.5 L13.5 639.5 L13.5 640.5 L14.5 641.5 L14.5 642.5 L15.5 642.5 L16.5 642.5 L17.5 642.5 L18.5 641.5 L18.5 640.5 L18.5 639.5 L18.5 639.5 L17.5 638.5M13.5 636.5 L18.5 634.5M13.5 632.5 L18.5 634.5 L19.5 634.5 L20.5 635.5 L20.5 636.5 L20.5 636.5M13.5 620.5 L12.5 620.5 L11.5 621.5 L11.5 621.5 L11.5 623.5 L11.5 623.5 L12.5 624.5 L13.5 624.5 L14.5 625.5 L15.5 625.5 L16.5 624.5 L17.5 624.5 L18.5 623.5 L18.5 623.5 L18.5 621.5 L18.5 621.5 L17.5 620.5 L16.5 620.5M11.5 617.5 L18.5 617.5M13.5 611.5 L18.5 611.5M14.5 611.5 L14.5 612.5 L13.5 612.5 L13.5 613.5 L14.5 614.5 L14.5 615.5 L15.5 615.5 L16.5 615.5 L17.5 615.5 L18.5 614.5 L18.5 613.5 L18.5 612.5 L18.5 612.5 L17.5 611.5M14.5 605.5 L14.5 605.5 L13.5 606.5 L13.5 607.5 L14.5 608.5 L14.5 608.5 L15.5 608.5 L15.5 607.5 L16.5 606.5 L16.5 605.5 L17.5 605.5 L17.5 605.5 L18.5 605.5 L18.5 606.5 L18.5 607.5 L18.5 608.5 L17.5 608.5M14.5 599.5 L14.5 599.5 L13.5 600.5 L13.5 601.5 L14.5 602.5 L14.5 603.5 L15.5 602.5 L15.5 602.5 L16.5 600.5 L16.5 599.5 L17.5 599.5 L17.5 599.5 L18.5 599.5 L18.5 600.5 L18.5 601.5 L18.5 602.5 L17.5 603.5" stroke="#000" stroke-width="0.93" fill="none" stroke-linecap="square" shape-rendering="crispEdges"/><path d="M481.5 783.5 L481.5 790.5M481.5 783.5 L484.5 783.5 L485.5 783.5 L486.5 784.5 L486.5 784.5 L486.5 785.5 L486.5 786.5 L485.5 786.5 L484.5 787.5 L481.5 787.5M488.5 785.5 L488.5 790.5M488.5 787.5 L489.5 786.5 L489.5 786.5 L490.5 785.5 L491.5 785.5M493.5 787.5 L497.5 787.5 L497.5 787.5 L496.5 786.5 L496.5 786.5 L495.5 785.5 L494.5 785.5 L494.5 786.5 L493.5 786.5 L493.5 787.5 L493.5 788.5 L493.5 789.5 L494.5 790.5 L494.5 790.5 L495.5 790.5 L496.5 790.5 L497.5 789.5M499.5 785.5 L499.5 792.5M499.5 786.5 L500.5 786.5 L501.5 785.5 L502.5 785.5 L502.5 786.5 L503.5 786.5 L504.5 787.5 L504.5 788.5 L503.5 789.5 L502.5 790.5 L502.5 790.5 L501.5 790.5 L500.5 790.5 L499.5 789.5M510.5 785.5 L510.5 790.5M510.5 786.5 L509.5 786.5 L508.5 785.5 L507.5 785.5 L507.5 786.5 L506.5 786.5 L506.5 787.5 L506.5 788.5 L506.5 789.5 L507.5 790.5 L507.5 790.5 L508.5 790.5 L509.5 790.5 L510.5 789.5M513.5 785.5 L513.5 790.5M513.5 787.5 L513.5 786.5 L514.5 786.5 L514.5 785.5 L515.5 785.5M517.5 787.5 L521.5 787.5 L521.5 787.5 L521.5 786.5 L520.5 786.5 L520.5 785.5 L519.5 785.5 L518.5 786.5 L517.5 786.5 L517.5 787.5 L517.5 788.5 L517.5 789.5 L518.5 790.5 L519.5 790.5 L520.5 790.5 L520.5 790.5 L521.5 789.5M527.5 783.5 L527.5 790.5M527.5 786.5 L527.5 786.5 L526.5 785.5 L525.5 785.5 L524.5 786.5 L524.5 786.5 L523.5 787.5 L523.5 788.5 L524.5 789.5 L524.5 790.5 L525.5 790.5 L526.5 790.5 L527.5 790.5 L527.5 789.5M536.5 783.5 L536.5 790.5M536.5 786.5 L537.5 786.5 L537.5 785.5 L538.5 785.5 L539.5 786.5 L540.5 786.5 L540.5 787.5 L540.5 788.5 L540.5 789.5 L539.5 790.5 L538.5 790.5 L537.5 790.5 L537.5 790.5 L536.5 789.5M542.5 785.5 L544.5 790.5M546.5 785.5 L544.5 790.5 L543.5 791.5 L543.5 792.5 L542.5 792.5 L542.5 792.5M554.5 783.5 L554.5 790.5M559.5 783.5 L559.5 790.5M554.5 786.5 L559.5 786.5M562.5 783.5 L562.5 790.5M562.5 783.5 L566.5 783.5M562.5 786.5 L564.5 786.5M562.5 790.5 L566.5 790.5M568.5 783.5 L568.5 790.5M568.5 790.5 L573.5 790.5M574.5 783.5 L574.5 790.5M579.5 783.5 L578.5 783.5 L577.5 784.5 L577.5 785.5 L577.5 786.5 L577.5 787.5 L577.5 788.5 L577.5 789.5 L578.5 790.5 L579.5 790.5 L580.5 790.5 L581.5 790.5 L582.5 789.5 L582.5 788.5 L582.5 787.5 L582.5 786.5 L582.5 785.5 L582.5 784.5 L581.5 783.5 L580.5 783.5 L579.5 783.5" stroke="#000" stroke-width="0.93" fill="none" stroke-linecap="square" shape-rendering="crispEdges"/></svg></body></html>
